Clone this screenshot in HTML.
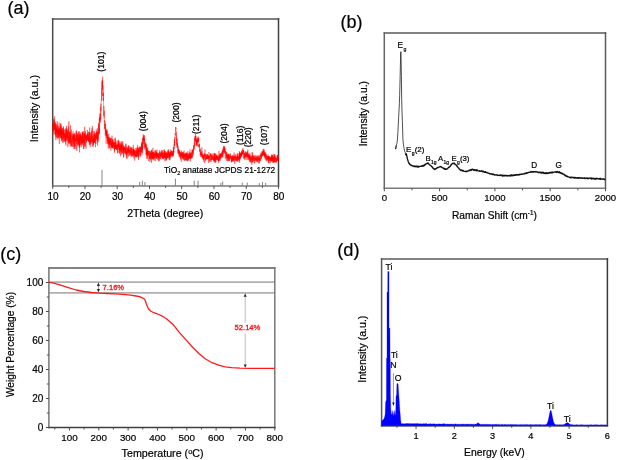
<!DOCTYPE html>
<html><head><meta charset="utf-8"><style>
html,body{margin:0;padding:0;background:#fff;}
svg{display:block;font-family:'Liberation Sans',Arial,sans-serif;}
</style></head><body>
<svg width="617" height="460" viewBox="0 0 617 460">
<rect width="617" height="460" fill="#fff"/>
<text x="7.5" y="14" font-size="18" text-anchor="start" fill="#000" stroke="#000" stroke-width="0.2" >(a)</text>
<path d="M52.7,18.9H278.5" stroke="#555" stroke-width="1.5" stroke-linecap="square"/>
<path d="M278.5,18.9V185.9" stroke="#404040" stroke-width="1.5" stroke-linecap="square"/>
<path d="M52.7,18.9V185.9" stroke="#4a4a4a" stroke-width="1.5" stroke-linecap="square"/>
<path d="M52.7,185.9H278.5" stroke="#7a7a7a" stroke-width="1.5" stroke-linecap="square"/>
<line x1="52.7" y1="185.9" x2="52.7" y2="188.9" stroke="#4d4d4d" stroke-width="1" />
<line x1="68.83" y1="185.9" x2="68.83" y2="187.9" stroke="#4d4d4d" stroke-width="1" />
<line x1="84.96" y1="185.9" x2="84.96" y2="188.9" stroke="#4d4d4d" stroke-width="1" />
<line x1="101.09" y1="185.9" x2="101.09" y2="187.9" stroke="#4d4d4d" stroke-width="1" />
<line x1="117.21" y1="185.9" x2="117.21" y2="188.9" stroke="#4d4d4d" stroke-width="1" />
<line x1="133.34" y1="185.9" x2="133.34" y2="187.9" stroke="#4d4d4d" stroke-width="1" />
<line x1="149.47" y1="185.9" x2="149.47" y2="188.9" stroke="#4d4d4d" stroke-width="1" />
<line x1="165.6" y1="185.9" x2="165.6" y2="187.9" stroke="#4d4d4d" stroke-width="1" />
<line x1="181.73" y1="185.9" x2="181.73" y2="188.9" stroke="#4d4d4d" stroke-width="1" />
<line x1="197.86" y1="185.9" x2="197.86" y2="187.9" stroke="#4d4d4d" stroke-width="1" />
<line x1="213.99" y1="185.9" x2="213.99" y2="188.9" stroke="#4d4d4d" stroke-width="1" />
<line x1="230.11" y1="185.9" x2="230.11" y2="187.9" stroke="#4d4d4d" stroke-width="1" />
<line x1="246.24" y1="185.9" x2="246.24" y2="188.9" stroke="#4d4d4d" stroke-width="1" />
<line x1="262.37" y1="185.9" x2="262.37" y2="187.9" stroke="#4d4d4d" stroke-width="1" />
<line x1="278.5" y1="185.9" x2="278.5" y2="188.9" stroke="#4d4d4d" stroke-width="1" />
<text x="53" y="199.5" font-size="10" text-anchor="middle" fill="#000" stroke="#000" stroke-width="0.2" >10</text>
<text x="85.26" y="199.5" font-size="10" text-anchor="middle" fill="#000" stroke="#000" stroke-width="0.2" >20</text>
<text x="117.51" y="199.5" font-size="10" text-anchor="middle" fill="#000" stroke="#000" stroke-width="0.2" >30</text>
<text x="149.77" y="199.5" font-size="10" text-anchor="middle" fill="#000" stroke="#000" stroke-width="0.2" >40</text>
<text x="182.03" y="199.5" font-size="10" text-anchor="middle" fill="#000" stroke="#000" stroke-width="0.2" >50</text>
<text x="214.29" y="199.5" font-size="10" text-anchor="middle" fill="#000" stroke="#000" stroke-width="0.2" >60</text>
<text x="246.54" y="199.5" font-size="10" text-anchor="middle" fill="#000" stroke="#000" stroke-width="0.2" >70</text>
<text x="278.8" y="199.5" font-size="10" text-anchor="middle" fill="#000" stroke="#000" stroke-width="0.2" >80</text>
<text x="165.2" y="216.7" font-size="10.6" text-anchor="middle" fill="#000" stroke="#000" stroke-width="0.2" >2Theta (degree)</text>
<text transform="translate(38.3,108.6) rotate(-90)" font-size="10.6" text-anchor="middle" fill="#000" stroke="#000" stroke-width="0.2">Intensity (a.u.)</text>
<line x1="101.99" y1="185.9" x2="101.99" y2="169.9" stroke="#777" stroke-width="0.9" />
<line x1="139.62" y1="185.9" x2="139.62" y2="182.05" stroke="#777" stroke-width="0.9" />
<line x1="142.37" y1="185.9" x2="142.37" y2="180.7" stroke="#777" stroke-width="0.9" />
<line x1="144.87" y1="185.9" x2="144.87" y2="182.05" stroke="#777" stroke-width="0.9" />
<line x1="175.44" y1="185.9" x2="175.44" y2="178.68" stroke="#777" stroke-width="0.9" />
<line x1="194.28" y1="185.9" x2="194.28" y2="180.7" stroke="#777" stroke-width="0.9" />
<line x1="198.05" y1="185.9" x2="198.05" y2="180.7" stroke="#777" stroke-width="0.9" />
<line x1="220.82" y1="185.9" x2="220.82" y2="182.86" stroke="#777" stroke-width="0.9" />
<line x1="222.66" y1="185.9" x2="222.66" y2="181.51" stroke="#777" stroke-width="0.9" />
<line x1="242.24" y1="185.9" x2="242.24" y2="182.59" stroke="#777" stroke-width="0.9" />
<line x1="247.24" y1="185.9" x2="247.24" y2="182.59" stroke="#777" stroke-width="0.9" />
<line x1="259.24" y1="185.9" x2="259.24" y2="183.13" stroke="#777" stroke-width="0.9" />
<line x1="262.46" y1="185.9" x2="262.46" y2="182.05" stroke="#777" stroke-width="0.9" />
<line x1="265.65" y1="185.9" x2="265.65" y2="182.86" stroke="#777" stroke-width="0.9" />
<text x="164" y="172.9" font-size="8.4" text-anchor="start" fill="#000" stroke="#000" stroke-width="0.2" >TiO<tspan font-size="5.5" dy="2">2</tspan><tspan dy="-2"> anatase JCPDS 21-1272</tspan></text>
<text transform="translate(104.1,61.6) rotate(-90)" font-size="8.6" text-anchor="middle" fill="#000" stroke="#000" stroke-width="0.2">(101)</text>
<text transform="translate(145.8,121.2) rotate(-90)" font-size="8.6" text-anchor="middle" fill="#000" stroke="#000" stroke-width="0.2">(004)</text>
<text transform="translate(178.8,112.5) rotate(-90)" font-size="8.6" text-anchor="middle" fill="#000" stroke="#000" stroke-width="0.2">(200)</text>
<text transform="translate(199,124.3) rotate(-90)" font-size="8.6" text-anchor="middle" fill="#000" stroke="#000" stroke-width="0.2">(211)</text>
<text transform="translate(226.7,133.5) rotate(-90)" font-size="8.6" text-anchor="middle" fill="#000" stroke="#000" stroke-width="0.2">(204)</text>
<text transform="translate(242.7,135.3) rotate(-90)" font-size="8.6" text-anchor="middle" fill="#000" stroke="#000" stroke-width="0.2">(116)</text>
<text transform="translate(250.8,137.3) rotate(-90)" font-size="8.6" text-anchor="middle" fill="#000" stroke="#000" stroke-width="0.2">(220)</text>
<text transform="translate(267.4,135.3) rotate(-90)" font-size="8.6" text-anchor="middle" fill="#000" stroke="#000" stroke-width="0.2">(107)</text>
<polyline points="52.7,127.59 52.76,129.13 52.83,126.32 52.89,123.29 52.96,125.52 53.02,122.89 53.09,128.2 53.15,134.65 53.22,125.54 53.28,124.95 53.35,130.55 53.41,129.94 53.47,128.73 53.54,123.6 53.6,128.16 53.67,131.84 53.73,121.69 53.8,126.17 53.86,119.01 53.93,122.12 53.99,119.41 54.06,127.49 54.12,122.38 54.18,130.13 54.25,129.61 54.31,127.94 54.38,116.34 54.44,126.28 54.51,128.79 54.57,129.65 54.64,121.48 54.7,126.79 54.77,124.34 54.83,125.24 54.89,134.64 54.96,125.35 55.02,129.28 55.09,133.91 55.15,126.62 55.22,129.03 55.28,130.2 55.35,130.02 55.41,123.62 55.47,130.18 55.54,136.64 55.6,122.17 55.67,134.25 55.73,130.6 55.8,126.85 55.86,140.11 55.93,133.97 55.99,124.21 56.06,130.63 56.12,133.2 56.18,129.42 56.25,133.83 56.31,130.14 56.38,133.86 56.44,137.76 56.51,127.24 56.57,131.69 56.64,128.41 56.7,131.41 56.77,124.89 56.83,127.98 56.89,129.95 56.96,135.48 57.02,136.76 57.09,124.47 57.15,127.16 57.22,134.42 57.28,121.28 57.35,128.97 57.41,130.86 57.48,137.68 57.54,134.89 57.6,129.86 57.67,129.7 57.73,130.35 57.8,139.27 57.86,129.56 57.93,130.23 57.99,133.57 58.06,131.25 58.12,130.92 58.19,126.39 58.25,131.95 58.31,129.84 58.38,137.94 58.44,135.43 58.51,132.09 58.57,135.61 58.64,130.62 58.7,137.63 58.77,132.39 58.83,135.39 58.9,126.07 58.96,134.31 59.02,124.19 59.09,122.5 59.15,131.21 59.22,128.28 59.28,133.65 59.35,144.11 59.41,128.78 59.48,129.87 59.54,134.06 59.61,135.55 59.67,132.26 59.73,132.16 59.8,136.75 59.86,135.89 59.93,128.18 59.99,133 60.06,133.61 60.12,128.19 60.19,134.79 60.25,129.24 60.31,138.42 60.38,134.55 60.44,134.07 60.51,130.7 60.57,133.09 60.64,123.73 60.7,128.09 60.77,135.6 60.83,123.17 60.9,138.08 60.96,125.15 61.02,137.69 61.09,129.72 61.15,137.87 61.22,134.66 61.28,126.35 61.35,140.32 61.41,141.31 61.48,133.81 61.54,132.8 61.61,133.4 61.67,129.35 61.73,139.76 61.8,131.58 61.86,134.07 61.93,130.39 61.99,131.26 62.06,128.03 62.12,140.74 62.19,133.72 62.25,139.35 62.32,134.62 62.38,131.11 62.44,132.98 62.51,131.84 62.57,134.72 62.64,132.83 62.7,133.24 62.77,127.88 62.83,130.77 62.9,143.11 62.96,131.51 63.03,129.63 63.09,136.62 63.15,142 63.22,127.73 63.28,133.99 63.35,131.9 63.41,126.29 63.48,138.8 63.54,135.04 63.61,135.55 63.67,131.46 63.74,137.53 63.8,132.59 63.86,134.6 63.93,129.81 63.99,129.3 64.06,142.09 64.12,132.91 64.19,136.93 64.25,135.34 64.32,133.33 64.38,133.03 64.44,138.75 64.51,134.13 64.57,134.91 64.64,135.81 64.7,141.61 64.77,139.17 64.83,137.71 64.9,133.01 64.96,128.95 65.03,140.64 65.09,140.75 65.15,135.24 65.22,138.68 65.28,139.9 65.35,140.18 65.41,140.66 65.48,133.8 65.54,143.68 65.61,129.9 65.67,140.47 65.74,138.66 65.8,140.58 65.86,145.64 65.93,143.69 65.99,130.57 66.06,127.88 66.12,140.44 66.19,131.3 66.25,136.34 66.32,140.63 66.38,128.24 66.45,125.94 66.51,137.81 66.57,136.76 66.64,135.34 66.7,136.79 66.77,132.32 66.83,129.08 66.9,135.84 66.96,131.85 67.03,128.52 67.09,139.29 67.16,136.48 67.22,138.85 67.28,131.89 67.35,133.58 67.41,131.9 67.48,132.49 67.54,137.93 67.61,133.06 67.67,138.78 67.74,138.73 67.8,147.18 67.87,130.12 67.93,141.55 67.99,136.69 68.06,137.1 68.12,129.95 68.19,134.92 68.25,140.96 68.32,136.86 68.38,137.71 68.45,135.88 68.51,143.13 68.58,137.28 68.64,126.41 68.7,133.98 68.77,127.62 68.83,121.24 68.9,134.87 68.96,144.21 69.03,137.81 69.09,131.74 69.16,132.92 69.22,143.31 69.28,138.47 69.35,137.95 69.41,137.47 69.48,137.96 69.54,141.82 69.61,140.58 69.67,138.92 69.74,132.66 69.8,140.45 69.87,134.51 69.93,143.42 69.99,131.63 70.06,137.32 70.12,138 70.19,131.44 70.25,146.69 70.32,145.41 70.38,135.83 70.45,142.02 70.51,140.09 70.58,125.19 70.64,139.5 70.7,137.97 70.77,138.72 70.83,132.97 70.9,137.02 70.96,137.5 71.03,144.33 71.09,140.1 71.16,138.44 71.22,146.1 71.29,135.76 71.35,136.61 71.41,129.54 71.48,146.4 71.54,143.42 71.61,143.21 71.67,142 71.74,139.26 71.8,139.81 71.87,137.51 71.93,137.78 72,139.09 72.06,146.33 72.12,141.6 72.19,138.57 72.25,136.01 72.32,135.75 72.38,146.85 72.45,141.43 72.51,139.28 72.58,137.24 72.64,133.49 72.71,138.66 72.77,143.32 72.83,137.08 72.9,137.91 72.96,137.96 73.03,139.61 73.09,131.21 73.16,137.93 73.22,134.89 73.29,143.49 73.35,135.34 73.42,142 73.48,146.69 73.54,137.64 73.61,136.24 73.67,140.16 73.74,139.22 73.8,134.36 73.87,141.53 73.93,149.2 74,138.02 74.06,138.31 74.12,134.19 74.19,140.91 74.25,133.23 74.32,133.93 74.38,145.67 74.45,134.95 74.51,144.72 74.58,146.91 74.64,140.72 74.71,142.18 74.77,149.05 74.83,138.53 74.9,136.6 74.96,132.89 75.03,139.74 75.09,146.8 75.16,144.27 75.22,134.97 75.29,135.41 75.35,137.15 75.42,141.06 75.48,138.64 75.54,140.71 75.61,141.12 75.67,138.23 75.74,139.51 75.8,140.73 75.87,139.32 75.93,142.21 76,148.89 76.06,142.67 76.13,140.07 76.19,131.59 76.25,141.72 76.32,130.35 76.38,132.99 76.45,144.03 76.51,143.32 76.58,139.17 76.64,131.59 76.71,138.12 76.77,136.64 76.84,143.06 76.9,150.95 76.96,141.04 77.03,136.22 77.09,134.33 77.16,139.76 77.22,139.19 77.29,134.47 77.35,140.64 77.42,134.51 77.48,145.5 77.55,145.28 77.61,145.4 77.67,137.85 77.74,142.66 77.8,139.54 77.87,138.31 77.93,138.57 78,133.94 78.06,133.24 78.13,144.07 78.19,139.3 78.25,141.27 78.32,145.06 78.38,131.84 78.45,136.43 78.51,141.06 78.58,142.11 78.64,138.39 78.71,145.18 78.77,141.22 78.84,134.36 78.9,135.72 78.96,144.09 79.03,142.44 79.09,131.05 79.16,146.69 79.22,143.08 79.29,146.66 79.35,138.35 79.42,138.77 79.48,134.77 79.55,152.39 79.61,139.35 79.67,147.82 79.74,137.07 79.8,140.97 79.87,132.15 79.93,138.34 80,144.9 80.06,134.17 80.13,145.32 80.19,141.79 80.26,135.17 80.32,137.76 80.38,137.97 80.45,139.93 80.51,137.6 80.58,136.2 80.64,138.7 80.71,135.24 80.77,133.99 80.84,139.92 80.9,144.37 80.97,132.84 81.03,140.16 81.09,137.04 81.16,135.48 81.22,144.22 81.29,137.67 81.35,147.29 81.42,136.41 81.48,141.98 81.55,139.05 81.61,136.53 81.68,142.93 81.74,139.39 81.8,143 81.87,139.89 81.93,134.95 82,139.63 82.06,140.36 82.13,144.67 82.19,135.8 82.26,139.92 82.32,131.92 82.39,143.2 82.45,134.96 82.51,131.52 82.58,139.81 82.64,145.34 82.71,132.85 82.77,134.92 82.84,136.56 82.9,134.72 82.97,141.88 83.03,136.25 83.09,136.65 83.16,142.83 83.22,136.49 83.29,142.11 83.35,135.46 83.42,134.32 83.48,131.37 83.55,148.85 83.61,138.54 83.68,141.2 83.74,139.9 83.8,140.8 83.87,140.27 83.93,149.04 84,135.13 84.06,132.68 84.13,135.25 84.19,133.73 84.26,143.54 84.32,143.88 84.39,135.48 84.45,133.46 84.51,138.33 84.58,146.55 84.64,126.73 84.71,142.47 84.77,134.93 84.84,144.88 84.9,134.91 84.97,138.64 85.03,132.89 85.1,135.37 85.16,146.47 85.22,143.8 85.29,138.05 85.35,135.85 85.42,131.04 85.48,138.07 85.55,139.76 85.61,139.5 85.68,139.45 85.74,134.62 85.81,139.56 85.87,139.68 85.93,145.89 86,148.58 86.06,139.19 86.13,136.24 86.19,139.51 86.26,136.97 86.32,136.33 86.39,139.51 86.45,134.9 86.52,142.6 86.58,139.27 86.64,140.92 86.71,138.89 86.77,136.34 86.84,135.3 86.9,138.6 86.97,137.14 87.03,140.78 87.1,139.66 87.16,133.33 87.23,139.97 87.29,133.4 87.35,136.77 87.42,138.26 87.48,129.97 87.55,140.03 87.61,140.3 87.68,138.85 87.74,137.61 87.81,137.83 87.87,135.02 87.93,138.29 88,136.97 88.06,139.95 88.13,133.93 88.19,140.59 88.26,140.15 88.32,138.82 88.39,137.43 88.45,142.01 88.52,131.73 88.58,141.56 88.64,140.54 88.71,140.71 88.77,141.16 88.84,136.36 88.9,138.17 88.97,142.3 89.03,141.33 89.1,140.28 89.16,132.32 89.23,141.79 89.29,144.69 89.35,143.93 89.42,140.34 89.48,132.07 89.55,143.58 89.61,138.54 89.68,127.54 89.74,140.93 89.81,132.31 89.87,133.2 89.94,136.23 90,144.99 90.06,137.42 90.13,140.35 90.19,147.12 90.26,146.4 90.32,138.59 90.39,137.93 90.45,133.24 90.52,135.82 90.58,140.95 90.65,140.79 90.71,139.47 90.77,143.51 90.84,135.39 90.9,138.65 90.97,142.24 91.03,141.55 91.1,143.76 91.16,140.66 91.23,137.41 91.29,140.46 91.36,134.2 91.42,131.27 91.48,141.4 91.55,138.48 91.61,140.12 91.68,130.94 91.74,137 91.81,135.91 91.87,134.68 91.94,128.32 92,137.06 92.06,142.66 92.13,140.3 92.19,135.82 92.26,138.48 92.32,141.98 92.39,125.96 92.45,137.95 92.52,140.97 92.58,141.59 92.65,146.21 92.71,143.62 92.77,139.87 92.84,139.81 92.9,142 92.97,135.96 93.03,138.21 93.1,142.49 93.16,147.24 93.23,137.62 93.29,138.11 93.36,139.21 93.42,144.38 93.48,138.14 93.55,144.91 93.61,133.86 93.68,137.38 93.74,137.3 93.81,141.73 93.87,142.88 93.94,131.31 94,133.97 94.07,139.61 94.13,135.08 94.19,131.16 94.26,142.7 94.32,140.21 94.39,140.18 94.45,135.78 94.52,142.53 94.58,136.78 94.65,142.77 94.71,133.69 94.78,133.92 94.84,138.65 94.9,134.53 94.97,140.7 95.03,138.79 95.1,133.43 95.16,137.87 95.23,135.93 95.29,141.56 95.36,134.58 95.42,135.4 95.49,142.74 95.55,147.28 95.61,146.15 95.68,137.46 95.74,138.1 95.81,143.89 95.87,136.46 95.94,132.61 96,137.41 96.07,138.83 96.13,133.09 96.2,129.41 96.26,130.28 96.32,139.5 96.39,133.14 96.45,135.79 96.52,137.27 96.58,138.98 96.65,134.7 96.71,138.28 96.78,132.09 96.84,134.32 96.9,131.32 96.97,140.67 97.03,135.49 97.1,132.27 97.16,133.86 97.23,134.31 97.29,138.22 97.36,128.09 97.42,130.4 97.49,133.14 97.55,145.66 97.61,138.66 97.68,133.88 97.74,137.3 97.81,142.96 97.87,132.87 97.94,132.13 98,138.77 98.07,135.48 98.13,136.05 98.2,130.77 98.26,141.03 98.32,139.88 98.39,134.74 98.45,135.01 98.52,123.13 98.58,134.3 98.65,130.47 98.71,132.88 98.78,133.64 98.84,128.97 98.91,122.89 98.97,131.34 99.03,126.27 99.1,127.65 99.16,126.11 99.23,126.83 99.29,118.06 99.36,132.58 99.42,128.04 99.49,131.19 99.55,134.35 99.62,125.55 99.68,117.3 99.74,120.55 99.81,118.63 99.87,120.96 99.94,122.74 100,113.29 100.07,122.41 100.13,113.87 100.2,120.65 100.26,118.11 100.33,116.37 100.39,116.45 100.45,113.54 100.52,112.22 100.58,106.7 100.65,112.48 100.71,119.12 100.78,118.47 100.84,114.48 100.91,110.62 100.97,103.55 101.04,110.94 101.1,103.31 101.16,101.8 101.23,99.4 101.29,99.47 101.36,95.77 101.42,95.7 101.49,90.06 101.55,91.49 101.62,100.93 101.68,89.88 101.74,87.85 101.81,89.75 101.87,89.33 101.94,80.86 102,83.68 102.07,87.55 102.13,84.34 102.2,83.36 102.26,88.99 102.33,79.92 102.39,83.2 102.45,81.14 102.52,89.84 102.58,76.64 102.65,82.72 102.71,84.32 102.78,90.29 102.84,91.33 102.91,95.86 102.97,85.35 103.04,96.18 103.1,93.52 103.16,93.58 103.23,99.97 103.29,95.69 103.36,92.62 103.42,100.97 103.49,97.98 103.55,102.84 103.62,108.34 103.68,109.49 103.75,115.9 103.81,110.1 103.87,106.06 103.94,110.35 104,110.87 104.07,110.8 104.13,118.4 104.2,115.15 104.26,110.87 104.33,122.34 104.39,120.05 104.46,122.74 104.52,122.56 104.58,125.39 104.65,123.8 104.71,129.2 104.78,126.69 104.84,127.21 104.91,127.89 104.97,121.19 105.04,126.79 105.1,126.96 105.17,129.29 105.23,123.69 105.29,135.78 105.36,130.29 105.42,125.63 105.49,124.12 105.55,130.04 105.62,131.16 105.68,129.1 105.75,132.57 105.81,130.08 105.87,135 105.94,130.4 106,133.33 106.07,137.52 106.13,143.9 106.2,130.45 106.26,132.79 106.33,131.6 106.39,138.04 106.46,130.9 106.52,133.65 106.58,135.6 106.65,132.2 106.71,132.48 106.78,134.51 106.84,128.54 106.91,131.21 106.97,135.29 107.04,137.58 107.1,136.49 107.17,130.66 107.23,135.75 107.29,140.66 107.36,139.89 107.42,137.64 107.49,134.75 107.55,140.58 107.62,136.17 107.68,134.09 107.75,135.59 107.81,144.11 107.88,139.65 107.94,143.26 108,137.27 108.07,142.65 108.13,137.03 108.2,138.78 108.26,148.68 108.33,142.4 108.39,137.81 108.46,139.44 108.52,141.05 108.59,144.4 108.65,138.22 108.71,133.71 108.78,139.17 108.84,140.33 108.91,140.76 108.97,145.26 109.04,141.67 109.1,143.56 109.17,136.64 109.23,143.9 109.3,148.44 109.36,143.69 109.42,141.87 109.49,141.57 109.55,147.56 109.62,137.78 109.68,140.8 109.75,142.93 109.81,144.02 109.88,139.81 109.94,142.56 110.01,140.51 110.07,142.01 110.13,141.17 110.2,137.61 110.26,141.7 110.33,144.99 110.39,138.43 110.46,141.1 110.52,144.41 110.59,138.26 110.65,142.8 110.71,138.42 110.78,146.33 110.84,150.59 110.91,149.61 110.97,141.66 111.04,145.14 111.1,142.99 111.17,142.97 111.23,148.18 111.3,138.02 111.36,146.53 111.42,142.65 111.49,147.89 111.55,143.6 111.62,140.59 111.68,144.02 111.75,145.7 111.81,143.26 111.88,144.92 111.94,141.39 112.01,135.73 112.07,146.52 112.13,145.85 112.2,143.95 112.26,143.72 112.33,147.18 112.39,141.96 112.46,141.13 112.52,143 112.59,147.9 112.65,138.87 112.72,148 112.78,141.6 112.84,140.02 112.91,148.36 112.97,143.64 113.04,139.46 113.1,142.81 113.17,147.38 113.23,148.33 113.3,142.7 113.36,145.66 113.43,146.78 113.49,142.07 113.55,145.61 113.62,144.3 113.68,142.58 113.75,142.78 113.81,144.77 113.88,144.68 113.94,142.65 114.01,143.18 114.07,148.57 114.14,145.48 114.2,147.85 114.26,148.99 114.33,146.9 114.39,152.77 114.46,142.08 114.52,147.78 114.59,143.91 114.65,151.48 114.72,150.97 114.78,138.38 114.85,141.82 114.91,147.5 114.97,147.97 115.04,147.82 115.1,145.08 115.17,146.93 115.23,147.65 115.3,145.17 115.36,149.01 115.43,137.74 115.49,147.72 115.55,142.03 115.62,148.91 115.68,144.87 115.75,142.65 115.81,147.01 115.88,142.65 115.94,142.68 116.01,140.48 116.07,145.78 116.14,147.61 116.2,149.44 116.26,145.5 116.33,149.59 116.39,146.12 116.46,145.77 116.52,148.08 116.59,149.76 116.65,145.04 116.72,145.4 116.78,145.72 116.85,146.58 116.91,143.28 116.97,149.86 117.04,145.05 117.1,148.01 117.17,143.68 117.23,147.72 117.3,147.87 117.36,145.16 117.43,153.44 117.49,147.9 117.56,152.68 117.62,149.95 117.68,144.52 117.75,145.5 117.81,148.28 117.88,147.06 117.94,147.05 118.01,145.96 118.07,140.88 118.14,146.23 118.2,139.58 118.27,148.3 118.33,144.65 118.39,144.72 118.46,146.42 118.52,148.1 118.59,142.43 118.65,141.41 118.72,143.73 118.78,140.51 118.85,144.13 118.91,152.69 118.98,143.9 119.04,149.62 119.1,142.92 119.17,148.51 119.23,146.49 119.3,147.38 119.36,149.5 119.43,153.47 119.49,148.32 119.56,148.12 119.62,144.52 119.68,149.71 119.75,146.99 119.81,150.59 119.88,147.73 119.94,153.65 120.01,141.39 120.07,146.99 120.14,150.9 120.2,146.87 120.27,145.45 120.33,147.22 120.39,143.59 120.46,148.54 120.52,156.2 120.59,151.97 120.65,144.61 120.72,145.41 120.78,146.98 120.85,151.63 120.91,145.68 120.98,146.14 121.04,151.32 121.1,151.29 121.17,147.27 121.23,144.88 121.3,143.5 121.36,146.31 121.43,141.35 121.49,151.09 121.56,146.63 121.62,150.27 121.69,154.81 121.75,152.58 121.81,145.06 121.88,151.65 121.94,152.61 122.01,146.47 122.07,145.83 122.14,148.59 122.2,143.8 122.27,153.76 122.33,141.27 122.4,145.5 122.46,148.23 122.52,148.4 122.59,149.7 122.65,150.06 122.72,148.53 122.78,152.91 122.85,142.4 122.91,149.31 122.98,147.04 123.04,149.79 123.11,150.11 123.17,146.51 123.23,147.41 123.3,152.03 123.36,150.63 123.43,147.37 123.49,156.1 123.56,156.98 123.62,144.97 123.69,150.63 123.75,157.69 123.82,152.22 123.88,150.46 123.94,149.12 124.01,148.09 124.07,149.17 124.14,148.12 124.2,152.27 124.27,148.67 124.33,148.56 124.4,146.18 124.46,149.86 124.52,147.22 124.59,149.51 124.65,153.4 124.72,151.29 124.78,151.76 124.85,151.32 124.91,150.41 124.98,149.85 125.04,149.31 125.11,152.7 125.17,146.93 125.23,154.58 125.3,150.51 125.36,148.08 125.43,148.92 125.49,148.36 125.56,151.02 125.62,148.3 125.69,154.15 125.75,148.16 125.82,143.53 125.88,148.38 125.94,144.42 126.01,150.59 126.07,154.05 126.14,152.79 126.2,146.64 126.27,148.46 126.33,156.39 126.4,151.88 126.46,150.93 126.53,154.22 126.59,158.58 126.65,155.02 126.72,151.46 126.78,152.16 126.85,153 126.91,149.22 126.98,147.87 127.04,151.34 127.11,148.28 127.17,151.04 127.24,151.56 127.3,158.5 127.36,148.7 127.43,150.97 127.49,150.87 127.56,152.75 127.62,154.65 127.69,149.95 127.75,148.97 127.82,146.49 127.88,148.71 127.95,153.21 128.01,151.74 128.07,148.5 128.14,150.48 128.2,151.72 128.27,153.17 128.33,149.83 128.4,150.89 128.46,146.12 128.53,148.16 128.59,156.6 128.66,145.03 128.72,150.67 128.78,152.37 128.85,150.58 128.91,149.27 128.98,151.55 129.04,151.72 129.11,151.5 129.17,146.08 129.24,151.32 129.3,149.19 129.36,150.13 129.43,152.48 129.49,153.73 129.56,154.51 129.62,150.32 129.69,154.61 129.75,155.36 129.82,155.26 129.88,156.03 129.95,151.42 130.01,151.35 130.07,154.35 130.14,147.79 130.2,152.52 130.27,150.31 130.33,150.8 130.4,146.7 130.46,149.26 130.53,151.87 130.59,154.6 130.66,154.91 130.72,151.72 130.78,151.4 130.85,149.49 130.91,153.18 130.98,151.25 131.04,153.81 131.11,157.23 131.17,151.92 131.24,147.55 131.3,149.46 131.37,147.69 131.43,148.47 131.49,155.94 131.56,152.73 131.62,147.54 131.69,154.02 131.75,155.83 131.82,151.02 131.88,150.08 131.95,151.1 132.01,152.95 132.08,154.02 132.14,155.64 132.2,155.73 132.27,155.66 132.33,156.19 132.4,154.11 132.46,147.61 132.53,151.77 132.59,153.1 132.66,151.04 132.72,154.88 132.79,151.12 132.85,149.45 132.91,156.48 132.98,154.18 133.04,152.86 133.11,154.96 133.17,155.37 133.24,153.24 133.3,144.97 133.37,150.25 133.43,150.9 133.49,149.35 133.56,152.85 133.62,155.79 133.69,150.84 133.75,148.93 133.82,158.26 133.88,150.96 133.95,148.66 134.01,153 134.08,153.56 134.14,150.23 134.2,154.64 134.27,150.88 134.33,149.61 134.4,152.85 134.46,154.6 134.53,150.47 134.59,153.31 134.66,152.07 134.72,160.64 134.79,150.27 134.85,156.42 134.91,152.21 134.98,151.99 135.04,154.48 135.11,154.99 135.17,156.09 135.24,153.34 135.3,150.63 135.37,150.81 135.43,153.88 135.5,154.1 135.56,156.49 135.62,153.63 135.69,155.51 135.75,156.84 135.82,152.89 135.88,148.07 135.95,148.97 136.01,148.22 136.08,157.07 136.14,149.95 136.21,156.02 136.27,154.13 136.33,157.43 136.4,155.35 136.46,152.13 136.53,151.84 136.59,152.67 136.66,152.94 136.72,150.88 136.79,152.33 136.85,157.1 136.92,147.47 136.98,153.17 137.04,149.78 137.11,152.96 137.17,154.85 137.24,152.24 137.3,154.65 137.37,147.78 137.43,155.6 137.5,150.64 137.56,154.19 137.63,152.9 137.69,144.88 137.75,150.17 137.82,152.99 137.88,156.84 137.95,153.17 138.01,153.07 138.08,148.23 138.14,156.44 138.21,157.52 138.27,152.36 138.33,151.63 138.4,147.58 138.46,154.79 138.53,160.02 138.59,154.28 138.66,155.83 138.72,153.73 138.79,149.31 138.85,155.98 138.92,148.55 138.98,151.48 139.04,152.87 139.11,154.58 139.17,153.21 139.24,153.09 139.3,149.76 139.37,148.21 139.43,152.07 139.5,149.81 139.56,148.06 139.63,148.14 139.69,150.33 139.75,146.38 139.82,147.79 139.88,146.92 139.95,152.08 140.01,152.67 140.08,157.2 140.14,147.1 140.21,149.39 140.27,153.88 140.34,150.58 140.4,150.2 140.46,155.95 140.53,150.01 140.59,147.6 140.66,147.05 140.72,151.68 140.79,151.5 140.85,146.61 140.92,147.61 140.98,151.83 141.05,151.84 141.11,148.23 141.17,151.71 141.24,151.43 141.3,144.57 141.37,148.61 141.43,150.51 141.5,147.53 141.56,142.89 141.63,147.98 141.69,150.72 141.76,152.87 141.82,141.92 141.88,155.34 141.95,144.46 142.01,150.12 142.08,150.63 142.14,149.62 142.21,146.95 142.27,142.91 142.34,147.65 142.4,143.5 142.47,138.01 142.53,152.8 142.59,146.4 142.66,149.14 142.72,140.99 142.79,147.3 142.85,147.22 142.92,146.68 142.98,141.79 143.05,138.02 143.11,140.49 143.17,134.36 143.24,135.37 143.3,140.07 143.37,136.67 143.43,138.69 143.5,138.58 143.56,144.11 143.63,142.15 143.69,138.25 143.76,141.73 143.82,136.12 143.88,137.43 143.95,141.06 144.01,135.18 144.08,138.11 144.14,135.45 144.21,139.81 144.27,144.42 144.34,138.11 144.4,141.26 144.47,138.54 144.53,138.27 144.59,138.49 144.66,146.49 144.72,149.49 144.79,144.68 144.85,141.76 144.92,146.18 144.98,143.7 145.05,147.3 145.11,146.28 145.18,146.63 145.24,147.93 145.3,144.97 145.37,145.81 145.43,142.46 145.5,146.35 145.56,143.92 145.63,147.77 145.69,145.78 145.76,149 145.82,150.23 145.89,145.25 145.95,147.17 146.01,147.02 146.08,151.94 146.14,154.81 146.21,152.61 146.27,149.45 146.34,154.67 146.4,146.54 146.47,155.08 146.53,149.24 146.6,143.48 146.66,158.7 146.72,155.85 146.79,148.73 146.85,152.18 146.92,151.23 146.98,152.22 147.05,147.93 147.11,150.25 147.18,153.53 147.24,152.95 147.3,155.74 147.37,152.73 147.43,159.09 147.5,150.69 147.56,153.46 147.63,147.52 147.69,149.43 147.76,156.63 147.82,150.42 147.89,154.56 147.95,152.98 148.01,150.33 148.08,152.31 148.14,151.91 148.21,152.04 148.27,155.52 148.34,155.29 148.4,151.95 148.47,151.09 148.53,154.42 148.6,153.41 148.66,156.56 148.72,161.08 148.79,156.13 148.85,153.76 148.92,153.43 148.98,151.58 149.05,151.49 149.11,151.26 149.18,152.97 149.24,152.91 149.31,156.16 149.37,153.06 149.43,153.65 149.5,150.88 149.56,158.76 149.63,155.67 149.69,159.21 149.76,156.53 149.82,158.45 149.89,153.73 149.95,156.4 150.02,161.86 150.08,151.14 150.14,157.71 150.21,159.16 150.27,155.69 150.34,156.64 150.4,158.07 150.47,152.76 150.53,155.75 150.6,152.21 150.66,152.76 150.73,152.94 150.79,154.27 150.85,155.1 150.92,155.96 150.98,150.77 151.05,160.24 151.11,157.96 151.18,156.78 151.24,153.78 151.31,154.54 151.37,156.32 151.44,155.96 151.5,150.16 151.56,156.9 151.63,162.95 151.69,149.73 151.76,157.64 151.82,155.91 151.89,154.59 151.95,158.72 152.02,151.63 152.08,155.38 152.14,159 152.21,154.4 152.27,153.8 152.34,155.29 152.4,153.75 152.47,159.28 152.53,152.48 152.6,157.43 152.66,151.55 152.73,156.88 152.79,154.74 152.85,147.89 152.92,155.04 152.98,152.11 153.05,153.84 153.11,159.34 153.18,152 153.24,152.16 153.31,159.08 153.37,155.43 153.44,159.38 153.5,156.02 153.56,152.7 153.63,154.96 153.69,158.54 153.76,157.75 153.82,155.17 153.89,155.3 153.95,154.87 154.02,153.59 154.08,160.51 154.15,155.22 154.21,152.09 154.27,153.9 154.34,157.22 154.4,156.99 154.47,154.85 154.53,153.4 154.6,155.31 154.66,150.65 154.73,151.68 154.79,157.45 154.86,153.95 154.92,156.3 154.98,158.62 155.05,157.07 155.11,155.35 155.18,161.13 155.24,157.13 155.31,154.34 155.37,157.32 155.44,156.44 155.5,152.98 155.57,155.53 155.63,154.89 155.69,149.97 155.76,154.88 155.82,154.58 155.89,154.16 155.95,150.87 156.02,154.4 156.08,155.26 156.15,155.66 156.21,152.29 156.28,157.11 156.34,152.08 156.4,154.79 156.47,158.95 156.53,153.52 156.6,154.02 156.66,158.33 156.73,154.38 156.79,154.62 156.86,156.03 156.92,158.28 156.98,149.46 157.05,153.2 157.11,152.72 157.18,152.51 157.24,153.14 157.31,153.19 157.37,156.28 157.44,153.07 157.5,155.8 157.57,156.56 157.63,153.51 157.69,155.84 157.76,159.9 157.82,156.36 157.89,153.78 157.95,155.33 158.02,153.04 158.08,156.24 158.15,157.83 158.21,153.32 158.28,154.96 158.34,158.51 158.4,154.19 158.47,156.03 158.53,152.79 158.6,153.35 158.66,154.17 158.73,161.24 158.79,154.48 158.86,154.17 158.92,154.08 158.99,155.13 159.05,157.28 159.11,156.06 159.18,160.94 159.24,156.13 159.31,159.35 159.37,156.3 159.44,157.16 159.5,151.82 159.57,155.26 159.63,155.41 159.7,154.96 159.76,149.99 159.82,157.89 159.89,154.6 159.95,154.47 160.02,154.95 160.08,155.02 160.15,156.67 160.21,152.31 160.28,153.19 160.34,156.36 160.41,155.98 160.47,154.63 160.53,154.12 160.6,153.44 160.66,155.45 160.73,158.67 160.79,152.86 160.86,159.55 160.92,157.79 160.99,154.43 161.05,157.63 161.11,151.81 161.18,151.12 161.24,152.26 161.31,154.54 161.37,154.76 161.44,154.26 161.5,155.85 161.57,150.08 161.63,156.87 161.7,151.93 161.76,153.88 161.82,154.52 161.89,152.6 161.95,152.05 162.02,152.99 162.08,155.55 162.15,157.1 162.21,157.04 162.28,153.02 162.34,153.54 162.41,153.21 162.47,156.73 162.53,150.33 162.6,158.76 162.66,154.32 162.73,153.55 162.79,156.44 162.86,158.22 162.92,156.44 162.99,158.27 163.05,155.91 163.12,158.72 163.18,158.75 163.24,155.3 163.31,159.25 163.37,155.97 163.44,155.77 163.5,153.18 163.57,154.8 163.63,157.54 163.7,152.17 163.76,157.2 163.83,156.43 163.89,156.24 163.95,149.88 164.02,155.26 164.08,157.18 164.15,153.57 164.21,155.75 164.28,149.43 164.34,157.23 164.41,153.82 164.47,157.73 164.54,150.8 164.6,157.27 164.66,154.89 164.73,157.56 164.79,153.13 164.86,153.91 164.92,161.2 164.99,153.36 165.05,153.68 165.12,154.77 165.18,152.86 165.25,158.5 165.31,159.85 165.37,153.66 165.44,151.06 165.5,158.43 165.57,158.26 165.63,157.53 165.7,158.38 165.76,153.22 165.83,155 165.89,151.9 165.95,151.81 166.02,157.9 166.08,153.7 166.15,161.19 166.21,155.58 166.28,153.76 166.34,157.41 166.41,159.95 166.47,156.6 166.54,152.28 166.6,156.3 166.66,158.84 166.73,154.1 166.79,153.38 166.86,157.91 166.92,155.68 166.99,152.53 167.05,154.35 167.12,153.4 167.18,156.05 167.25,155.57 167.31,158.19 167.37,157.07 167.44,151.32 167.5,156.29 167.57,157.51 167.63,156.39 167.7,157.83 167.76,153.84 167.83,152.82 167.89,157.55 167.96,152.51 168.02,149.74 168.08,157.76 168.15,153.34 168.21,154.38 168.28,151.62 168.34,151.79 168.41,152.21 168.47,154.2 168.54,156.02 168.6,149.3 168.67,156.96 168.73,152.08 168.79,152.36 168.86,156.73 168.92,154.82 168.99,151.14 169.05,159.61 169.12,152.81 169.18,155.57 169.25,155.43 169.31,158.45 169.38,153.75 169.44,157.4 169.5,153 169.57,157.65 169.63,152.91 169.7,153.89 169.76,159.52 169.83,155.55 169.89,155.01 169.96,160.32 170.02,155.59 170.09,152.63 170.15,156.48 170.21,151.68 170.28,157.42 170.34,157.59 170.41,153.13 170.47,152.97 170.54,154.95 170.6,154.52 170.67,152.01 170.73,155.84 170.79,149.3 170.86,153.28 170.92,153.32 170.99,153.61 171.05,155.02 171.12,151.16 171.18,155.64 171.25,153.69 171.31,152.48 171.38,150.65 171.44,151.06 171.5,154.85 171.57,151.51 171.63,154.01 171.7,156.43 171.76,156.3 171.83,157.54 171.89,152.87 171.96,150.85 172.02,156 172.09,154.16 172.15,156.1 172.21,153.26 172.28,156.11 172.34,155.15 172.41,154.73 172.47,154.1 172.54,153.73 172.6,153.21 172.67,153.08 172.73,154.84 172.8,151 172.86,156.41 172.92,151.72 172.99,154.26 173.05,151.44 173.12,150.88 173.18,156.32 173.25,150.34 173.31,147.75 173.38,148.92 173.44,149.66 173.51,155.51 173.57,150.44 173.63,151.95 173.7,146.89 173.76,149.9 173.83,150.35 173.89,152.77 173.96,146.24 174.02,149.02 174.09,147.84 174.15,144.12 174.22,146.09 174.28,144.96 174.34,139.33 174.41,145.91 174.47,145.13 174.54,142.05 174.6,139.12 174.67,145.28 174.73,141.51 174.8,142.52 174.86,142.61 174.92,136.98 174.99,139.32 175.05,135.79 175.12,135.28 175.18,134.27 175.25,133.54 175.31,135.36 175.38,132.09 175.44,130.63 175.51,129.64 175.57,130.56 175.63,127.09 175.7,127.73 175.76,128.67 175.83,127.41 175.89,128.66 175.96,127.76 176.02,134.59 176.09,133.52 176.15,132.07 176.22,131.62 176.28,137.94 176.34,134.3 176.41,134.24 176.47,136.15 176.54,137.12 176.6,140.77 176.67,138.23 176.73,144.29 176.8,137.92 176.86,142.6 176.93,139.29 176.99,146.91 177.05,142.42 177.12,143.78 177.18,146.81 177.25,148.23 177.31,143.06 177.38,145.47 177.44,143.43 177.51,147.63 177.57,147.5 177.64,147.32 177.7,146.91 177.76,148.01 177.83,147.48 177.89,150.9 177.96,153.6 178.02,145.55 178.09,150.22 178.15,149.75 178.22,152.19 178.28,148.93 178.35,151.1 178.41,149.15 178.47,153.54 178.54,152.28 178.6,151.82 178.67,153.27 178.73,151.94 178.8,148.94 178.86,154.26 178.93,153.65 178.99,152.72 179.06,155.58 179.12,156.26 179.18,150.81 179.25,151.66 179.31,157.37 179.38,157.15 179.44,152.06 179.51,151.08 179.57,152.47 179.64,152.89 179.7,150.36 179.76,154.31 179.83,151.23 179.89,151.47 179.96,156.64 180.02,152.87 180.09,154.39 180.15,156.13 180.22,156.63 180.28,153.93 180.35,154.89 180.41,152.86 180.47,159.07 180.54,156.49 180.6,152.34 180.67,155.03 180.73,156.77 180.8,156.25 180.86,159.52 180.93,158.46 180.99,153.93 181.06,155.04 181.12,152.23 181.18,155.92 181.25,155.72 181.31,161.84 181.38,155.65 181.44,150.46 181.51,153.88 181.57,155.77 181.64,152.54 181.7,153.49 181.77,154.72 181.83,156.43 181.89,155.24 181.96,153.54 182.02,157.56 182.09,154.42 182.15,154.54 182.22,152.46 182.28,153.89 182.35,157.33 182.41,151.96 182.48,155.65 182.54,157.54 182.6,154.96 182.67,156.44 182.73,153.24 182.8,159.01 182.86,158.53 182.93,156.49 182.99,151.79 183.06,153.48 183.12,158.29 183.19,160.04 183.25,156.7 183.31,158.96 183.38,154.59 183.44,155.59 183.51,156.05 183.57,157.06 183.64,152.46 183.7,158.3 183.77,159.21 183.83,153.39 183.9,152.91 183.96,156.95 184.02,154.58 184.09,150.54 184.15,158.05 184.22,156.52 184.28,155.04 184.35,161.15 184.41,156.51 184.48,154.41 184.54,156.43 184.6,153.75 184.67,154.42 184.73,157.12 184.8,154.92 184.86,155.17 184.93,160.16 184.99,158.26 185.06,158.13 185.12,157.49 185.19,157.39 185.25,159.68 185.31,156.22 185.38,160.62 185.44,154.04 185.51,155.68 185.57,153.05 185.64,155.48 185.7,157.5 185.77,159.69 185.83,154.74 185.9,156.31 185.96,155.46 186.02,154.58 186.09,153.52 186.15,156.45 186.22,152.26 186.28,156.57 186.35,156.36 186.41,154.78 186.48,153.95 186.54,153.08 186.61,160.68 186.67,153.18 186.73,159.95 186.8,157.72 186.86,155.47 186.93,153.62 186.99,158.74 187.06,160.34 187.12,154.14 187.19,155.61 187.25,158.76 187.32,157.09 187.38,160.96 187.44,154.98 187.51,157.56 187.57,153.39 187.64,161.16 187.7,154.59 187.77,151.16 187.83,155.99 187.9,155.95 187.96,160.71 188.03,155.48 188.09,156.23 188.15,157.63 188.22,159.92 188.28,156.09 188.35,158.64 188.41,157.43 188.48,155.53 188.54,156.39 188.61,156.27 188.67,154.07 188.73,158.99 188.8,152.97 188.86,158.87 188.93,158.36 188.99,155.92 189.06,154.36 189.12,155.59 189.19,157.19 189.25,157.8 189.32,156.74 189.38,158.35 189.44,154.76 189.51,156.57 189.57,152.4 189.64,157.75 189.7,156.33 189.77,155 189.83,158.61 189.9,157.51 189.96,149.42 190.03,155.96 190.09,152.5 190.15,158.27 190.22,161.51 190.28,154.57 190.35,155.91 190.41,155.13 190.48,156.48 190.54,157.12 190.61,158.56 190.67,153.31 190.74,159.14 190.8,153.36 190.86,156.09 190.93,158.07 190.99,157 191.06,153.18 191.12,153.67 191.19,154.17 191.25,155.06 191.32,157.75 191.38,152.12 191.45,156.08 191.51,156.35 191.57,156.16 191.64,155.89 191.7,158.22 191.77,155.79 191.83,156.56 191.9,155.81 191.96,158.53 192.03,150.02 192.09,157.19 192.16,153.57 192.22,153.43 192.28,151.75 192.35,149.6 192.41,152.87 192.48,152.05 192.54,154.61 192.61,150 192.67,156.46 192.74,153.67 192.8,152.33 192.87,151.11 192.93,150.76 192.99,149.79 193.06,150.92 193.12,151.96 193.19,151.33 193.25,148.29 193.32,150.64 193.38,148.96 193.45,151.07 193.51,154.63 193.57,151.51 193.64,149.06 193.7,145.74 193.77,145.85 193.83,144.84 193.9,149.89 193.96,146.08 194.03,147.5 194.09,145.47 194.16,146.58 194.22,149.02 194.28,143.76 194.35,143.98 194.41,142.35 194.48,145.55 194.54,140.67 194.61,139.82 194.67,138.65 194.74,138.02 194.8,141.68 194.87,145.86 194.93,137.33 194.99,141.26 195.06,139.28 195.12,135.9 195.19,137.49 195.25,137.39 195.32,136.25 195.38,142.1 195.45,133.52 195.51,138.77 195.58,138.84 195.64,137.02 195.7,138.94 195.77,140.89 195.83,139.61 195.9,140.56 195.96,141.55 196.03,135.81 196.09,144.04 196.16,146.17 196.22,143.59 196.29,143.96 196.35,138.82 196.41,141.94 196.48,140.59 196.54,141.26 196.61,144.87 196.67,141 196.74,142.56 196.8,138.6 196.87,142.48 196.93,142.97 197,141.1 197.06,140.92 197.12,146.56 197.19,139.45 197.25,139.57 197.32,139.84 197.38,144.02 197.45,145.72 197.51,141.47 197.58,138.81 197.64,139.14 197.71,142.15 197.77,137.47 197.83,142.46 197.9,142.17 197.96,139.01 198.03,140.17 198.09,140.36 198.16,142.16 198.22,136.48 198.29,141.6 198.35,138.39 198.41,137.83 198.48,140.13 198.54,139.85 198.61,138.61 198.67,137.77 198.74,139.76 198.8,145.62 198.87,147.32 198.93,145 199,146.76 199.06,143.56 199.12,145.1 199.19,146.44 199.25,143.96 199.32,144.67 199.38,147.56 199.45,147.11 199.51,145.92 199.58,149.54 199.64,148.51 199.71,151.73 199.77,149.83 199.83,149.53 199.9,150.8 199.96,150.45 200.03,149.65 200.09,150.51 200.16,153.3 200.22,153.32 200.29,154.97 200.35,148.63 200.42,151.7 200.48,151.86 200.54,153.33 200.61,152.14 200.67,152.18 200.74,155.19 200.8,154.01 200.87,151.2 200.93,156.84 201,156.22 201.06,152.9 201.13,156.1 201.19,152.77 201.25,156.97 201.32,154.12 201.38,152.94 201.45,153.98 201.51,153.2 201.58,155.4 201.64,155.44 201.71,155.21 201.77,153.99 201.84,147.24 201.9,155.56 201.96,151.26 202.03,156.02 202.09,158.03 202.16,156.21 202.22,154.81 202.29,155.33 202.35,155.48 202.42,154.62 202.48,154.59 202.54,153.9 202.61,158.58 202.67,155.98 202.74,158.16 202.8,155.55 202.87,156.3 202.93,155.81 203,157.23 203.06,158.07 203.13,156.82 203.19,154.85 203.25,154.65 203.32,160.03 203.38,155.81 203.45,155.81 203.51,159.7 203.58,158.9 203.64,157.71 203.71,155.69 203.77,161.76 203.84,157.48 203.9,157.84 203.96,156.29 204.03,153.59 204.09,153.78 204.16,157.63 204.22,157.62 204.29,156.25 204.35,154.23 204.42,153.66 204.48,156.12 204.55,153.66 204.61,158.85 204.67,159.42 204.74,163.12 204.8,158.86 204.87,155.65 204.93,155.05 205,149.41 205.06,155.69 205.13,156.63 205.19,159.15 205.26,158.39 205.32,158.35 205.38,157.54 205.45,158.54 205.51,160.28 205.58,154.78 205.64,156.13 205.71,154.1 205.77,160.71 205.84,160.01 205.9,158.83 205.97,154.57 206.03,157.59 206.09,156.71 206.16,157.41 206.22,156.83 206.29,158.39 206.35,156.4 206.42,159.15 206.48,157.82 206.55,156.65 206.61,157.06 206.68,156.35 206.74,159.11 206.8,156.74 206.87,157.99 206.93,156.5 207,154.11 207.06,159.36 207.13,155.07 207.19,158.88 207.26,158.32 207.32,153.78 207.38,155.35 207.45,156.3 207.51,155.64 207.58,154.85 207.64,159.07 207.71,156.94 207.77,158.31 207.84,156.53 207.9,158.15 207.97,155.85 208.03,157.44 208.09,158.78 208.16,157.61 208.22,156.52 208.29,155.15 208.35,157.9 208.42,158.29 208.48,156.98 208.55,155.87 208.61,158.75 208.68,163 208.74,156.91 208.8,158.31 208.87,158.41 208.93,151.97 209,157.87 209.06,156.06 209.13,160.64 209.19,157.06 209.26,155.92 209.32,157.15 209.39,157.99 209.45,156.41 209.51,157.53 209.58,154.68 209.64,157.16 209.71,159.35 209.77,161.97 209.84,159.21 209.9,158.27 209.97,160.27 210.03,159.91 210.1,161.32 210.16,160.06 210.22,157.44 210.29,158.26 210.35,158.1 210.42,158.37 210.48,158.15 210.55,156.01 210.61,153.12 210.68,156.26 210.74,153.3 210.81,157.88 210.87,157.75 210.93,154.08 211,159.25 211.06,159.64 211.13,157.96 211.19,161.4 211.26,161.85 211.32,155.13 211.39,160.03 211.45,158.73 211.52,158.69 211.58,159.82 211.64,156.21 211.71,156.49 211.77,155.98 211.84,156.14 211.9,157.58 211.97,154.63 212.03,155.52 212.1,159.06 212.16,157.65 212.22,158.65 212.29,153.68 212.35,156.1 212.42,156.6 212.48,157.89 212.55,156.54 212.61,159.86 212.68,157.7 212.74,157.87 212.81,157.86 212.87,159.38 212.93,156.81 213,160.29 213.06,158.84 213.13,158.18 213.19,157.94 213.26,158.98 213.32,160.06 213.39,159.91 213.45,158.67 213.52,159.77 213.58,158.11 213.64,160.59 213.71,157.8 213.77,153.33 213.84,160.78 213.9,158.1 213.97,155.31 214.03,157.43 214.1,155.94 214.16,162.45 214.23,158.95 214.29,154.45 214.35,159.06 214.42,157 214.48,162.05 214.55,155.57 214.61,152.97 214.68,158.01 214.74,157.11 214.81,156.96 214.87,153.2 214.94,158.8 215,161.52 215.06,153.71 215.13,160.42 215.19,156.63 215.26,162.99 215.32,158.81 215.39,157.45 215.45,160.27 215.52,159 215.58,156.56 215.65,159.4 215.71,156.74 215.77,153.95 215.84,162.27 215.9,157.08 215.97,156.51 216.03,158.57 216.1,154.43 216.16,154.88 216.23,156.73 216.29,156.69 216.35,157.97 216.42,160.26 216.48,156.77 216.55,158.88 216.61,159.11 216.68,155.43 216.74,158.28 216.81,155.73 216.87,160.09 216.94,158.76 217,157.8 217.06,154.84 217.13,158 217.19,156.07 217.26,159.28 217.32,157.47 217.39,155.96 217.45,159.73 217.52,159.28 217.58,156.41 217.65,160.22 217.71,157.03 217.77,157 217.84,157.93 217.9,156.02 217.97,156.68 218.03,157.28 218.1,160.95 218.16,160.88 218.23,157.04 218.29,161.09 218.36,157.48 218.42,158.39 218.48,159.47 218.55,158.17 218.61,162.78 218.68,158.03 218.74,154.88 218.81,160.31 218.87,156.56 218.94,156.78 219,150.91 219.07,159.58 219.13,159.16 219.19,159.1 219.26,159.47 219.32,160.99 219.39,157.19 219.45,159.31 219.52,155.63 219.58,156.45 219.65,159.49 219.71,158.01 219.78,154.23 219.84,157.89 219.9,156.67 219.97,155.26 220.03,157.95 220.1,156.09 220.16,153.51 220.23,154.47 220.29,160.69 220.36,153.51 220.42,157.24 220.49,158.04 220.55,158.05 220.61,153.94 220.68,155.85 220.74,156.8 220.81,158.18 220.87,154.97 220.94,153.78 221,158.42 221.07,158.57 221.13,156.89 221.19,154.69 221.26,156.81 221.32,156.08 221.39,157.56 221.45,152.93 221.52,155.8 221.58,155.09 221.65,152.91 221.71,155.67 221.78,155.15 221.84,154.05 221.9,155.66 221.97,151.58 222.03,154.39 222.1,155.28 222.16,154.79 222.23,156.33 222.29,151.19 222.36,150.33 222.42,153.91 222.49,154.16 222.55,157.55 222.61,154.05 222.68,150.57 222.74,153.96 222.81,150.11 222.87,148.45 222.94,157.06 223,151.82 223.07,152.37 223.13,151.75 223.2,154.17 223.26,150.57 223.32,152.31 223.39,147.16 223.45,146.11 223.52,151.98 223.58,151.85 223.65,149.56 223.71,148.77 223.78,148.49 223.84,146.53 223.91,151.29 223.97,149.34 224.03,149.01 224.1,148.77 224.16,150.31 224.23,149.25 224.29,149.92 224.36,145.94 224.42,149.79 224.49,153.66 224.55,148.04 224.62,149.15 224.68,151.65 224.74,152.07 224.81,151.64 224.87,147.08 224.94,151.97 225,148.6 225.07,149.67 225.13,152.93 225.2,151.37 225.26,154.03 225.33,159.36 225.39,154.47 225.45,154.59 225.52,151.31 225.58,152.08 225.65,151.38 225.71,152.73 225.78,151.71 225.84,152.83 225.91,153.98 225.97,152.43 226.03,151.68 226.1,151.95 226.16,156.03 226.23,155.31 226.29,157.53 226.36,157.69 226.42,154.81 226.49,157.11 226.55,152.64 226.62,160.8 226.68,158.54 226.74,155.58 226.81,153.61 226.87,157.04 226.94,152.24 227,154.68 227.07,158.06 227.13,156.67 227.2,155.51 227.26,158.69 227.33,154.44 227.39,157.37 227.45,155.73 227.52,155.02 227.58,157.91 227.65,154.81 227.71,161.12 227.78,155.78 227.84,161.39 227.91,154.76 227.97,158.48 228.04,154.61 228.1,154.34 228.16,157.62 228.23,158.77 228.29,154.58 228.36,159.93 228.42,155.67 228.49,157.71 228.55,158.28 228.62,158.77 228.68,153.62 228.75,161.03 228.81,158.77 228.87,156.66 228.94,155.39 229,153.96 229.07,154.7 229.13,158.84 229.2,156.95 229.26,155.26 229.33,156.58 229.39,161.12 229.46,157.04 229.52,156.51 229.58,160.71 229.65,158.8 229.71,157.91 229.78,156.52 229.84,154.49 229.91,155.33 229.97,156.84 230.04,157.41 230.1,158.67 230.16,159.1 230.23,158.4 230.29,158.41 230.36,155.77 230.42,153.3 230.49,156.84 230.55,155.92 230.62,156.58 230.68,157.4 230.75,155.32 230.81,155.62 230.87,157.81 230.94,158.28 231,156.62 231.07,159.13 231.13,157.58 231.2,155.86 231.26,158.16 231.33,162.15 231.39,156.63 231.46,160.61 231.52,161.08 231.58,161.34 231.65,156.34 231.71,162.47 231.78,158.38 231.84,157.58 231.91,157.64 231.97,159.44 232.04,158.26 232.1,157.77 232.17,160.93 232.23,156.6 232.29,155.91 232.36,159.88 232.42,159.69 232.49,160.54 232.55,155.87 232.62,160.52 232.68,159.23 232.75,162 232.81,155.5 232.88,158.67 232.94,157.6 233,154.78 233.07,156.67 233.13,160.64 233.2,157.2 233.26,156.66 233.33,160.09 233.39,160.36 233.46,160.35 233.52,156.52 233.59,158.1 233.65,160.45 233.71,156.82 233.78,156.62 233.84,160.02 233.91,161.61 233.97,155.75 234.04,152.64 234.1,155.11 234.17,156.06 234.23,157.95 234.3,159.57 234.36,157.93 234.42,156.73 234.49,158.57 234.55,156.17 234.62,158.14 234.68,156.86 234.75,164.02 234.81,160 234.88,156.44 234.94,156.09 235,157.3 235.07,154.69 235.13,156.66 235.2,156.64 235.26,160.13 235.33,157.31 235.39,156.52 235.46,155.33 235.52,155.68 235.59,158.07 235.65,157.75 235.71,160.65 235.78,156.85 235.84,160.48 235.91,158.75 235.97,158.18 236.04,153.86 236.1,155.4 236.17,159.77 236.23,161.18 236.3,158.61 236.36,159.8 236.42,157.27 236.49,157.34 236.55,156.71 236.62,160.23 236.68,158.86 236.75,157.61 236.81,157.4 236.88,159.29 236.94,158.78 237.01,156.29 237.07,161.76 237.13,158.61 237.2,158.07 237.26,161.22 237.33,160.23 237.39,157.83 237.46,159.16 237.52,155.69 237.59,156.6 237.65,153.1 237.72,160.58 237.78,153.85 237.84,159.39 237.91,156.12 237.97,155.78 238.04,157.45 238.1,158.43 238.17,159.15 238.23,161.63 238.3,158.57 238.36,159.67 238.43,156.47 238.49,159.26 238.55,158.04 238.62,156.68 238.68,157.45 238.75,157.49 238.81,158.01 238.88,158.43 238.94,156.44 239.01,155.91 239.07,159.08 239.14,153.79 239.2,156.07 239.26,160.69 239.33,151.49 239.39,155.78 239.46,158.7 239.52,153.63 239.59,162.71 239.65,151.51 239.72,160.1 239.78,160.3 239.84,158.86 239.91,156.35 239.97,157.53 240.04,154.76 240.1,158.35 240.17,154.12 240.23,155.85 240.3,158.49 240.36,153.86 240.43,155.37 240.49,156.4 240.55,153.05 240.62,158.32 240.68,156.42 240.75,152.31 240.81,155.32 240.88,153.61 240.94,153.71 241.01,155.13 241.07,153.27 241.14,156.69 241.2,152.92 241.26,156.35 241.33,153.95 241.39,155.68 241.46,152.48 241.52,152.34 241.59,150.74 241.65,154.24 241.72,154.8 241.78,157.13 241.85,155.16 241.91,152.73 241.97,151.57 242.04,152.69 242.1,151.66 242.17,154.74 242.23,153.53 242.3,149.64 242.36,149.93 242.43,154.33 242.49,152.08 242.56,150.97 242.62,154.09 242.68,150.81 242.75,151.17 242.81,150.92 242.88,147.87 242.94,154.1 243.01,149.84 243.07,151.41 243.14,151.23 243.2,154.59 243.27,153.08 243.33,153.46 243.39,150.02 243.46,153.62 243.52,150.83 243.59,154.83 243.65,155.12 243.72,154.46 243.78,159.03 243.85,155.93 243.91,156.21 243.97,155.37 244.04,154.77 244.1,157.37 244.17,157.77 244.23,152.72 244.3,157.86 244.36,156.78 244.43,157.82 244.49,156.83 244.56,153.23 244.62,153.44 244.68,159.92 244.75,156.6 244.81,153.07 244.88,156.89 244.94,155.4 245.01,152.25 245.07,151.31 245.14,152.8 245.2,156.83 245.27,156.15 245.33,155.72 245.39,156.87 245.46,157.54 245.52,151.73 245.59,155.57 245.65,154.42 245.72,153.53 245.78,154.96 245.85,155.83 245.91,155.49 245.98,152.89 246.04,154.92 246.1,160.21 246.17,153.58 246.23,152.16 246.3,156.29 246.36,156.9 246.43,156.54 246.49,153.06 246.56,157.51 246.62,153.61 246.69,152.78 246.75,153.82 246.81,154.81 246.88,156.49 246.94,156.22 247.01,154.77 247.07,156.76 247.14,154.89 247.2,156.59 247.27,151.65 247.33,151.27 247.4,156.31 247.46,151.69 247.52,154.05 247.59,154.53 247.65,153.76 247.72,153.9 247.78,157.93 247.85,149.63 247.91,157.03 247.98,160.15 248.04,155.4 248.11,155.42 248.17,157.13 248.23,159.6 248.3,153.26 248.36,156.1 248.43,155.62 248.49,157.32 248.56,156.57 248.62,157.74 248.69,155.52 248.75,156.62 248.81,155.17 248.88,155.26 248.94,156.46 249.01,156.54 249.07,154.41 249.14,160.34 249.2,156.76 249.27,154.15 249.33,159.52 249.4,155.62 249.46,158.36 249.52,157.29 249.59,157.91 249.65,157.78 249.72,156.23 249.78,157.59 249.85,161.88 249.91,152.8 249.98,157.75 250.04,158.58 250.11,155.43 250.17,154.78 250.23,162.35 250.3,156.97 250.36,162.23 250.43,158.96 250.49,158 250.56,158.88 250.62,159.24 250.69,160.42 250.75,158.85 250.82,158.25 250.88,158.34 250.94,160.86 251.01,159.74 251.07,155.87 251.14,156.67 251.2,158.74 251.27,156.72 251.33,157.26 251.4,156.04 251.46,157.53 251.53,159.01 251.59,160.24 251.65,158.14 251.72,162.56 251.78,157.98 251.85,164.97 251.91,160.3 251.98,159.23 252.04,157.11 252.11,152.16 252.17,157.86 252.24,158.58 252.3,162.31 252.36,155.27 252.43,162.29 252.49,157.69 252.56,159.78 252.62,152.82 252.69,158.54 252.75,157.52 252.82,159.71 252.88,158.46 252.95,155.83 253.01,160.29 253.07,159.76 253.14,159.55 253.2,160.43 253.27,160.63 253.33,158.24 253.4,155.4 253.46,155.34 253.53,161.18 253.59,159.82 253.65,158.52 253.72,157.38 253.78,158.38 253.85,158.36 253.91,157.6 253.98,156.83 254.04,162.93 254.11,158.81 254.17,157.03 254.24,155.55 254.3,156.78 254.36,159.86 254.43,159.94 254.49,157.86 254.56,158.44 254.62,157.68 254.69,155.97 254.75,161.1 254.82,159.12 254.88,163.6 254.95,156.72 255.01,158.03 255.07,160.21 255.14,157.81 255.2,155.37 255.27,156.31 255.33,158.54 255.4,159.06 255.46,158.13 255.53,160.47 255.59,160.44 255.66,159.02 255.72,158.38 255.78,157.79 255.85,159.5 255.91,160.28 255.98,158.45 256.04,159.28 256.11,157.63 256.17,155.31 256.24,156.19 256.3,159.94 256.37,159.26 256.43,161.69 256.49,158.43 256.56,160.14 256.62,161.12 256.69,160.41 256.75,157 256.82,157.9 256.88,158.56 256.95,156.19 257.01,159.29 257.08,160.45 257.14,157.25 257.2,162.46 257.27,157.64 257.33,157.82 257.4,157.74 257.46,156.74 257.53,159.13 257.59,158.27 257.66,161.76 257.72,159.51 257.78,159.35 257.85,157.73 257.91,155.19 257.98,158 258.04,156.37 258.11,160.19 258.17,158.09 258.24,161.69 258.3,159.7 258.37,159.9 258.43,158.61 258.49,158.55 258.56,159.48 258.62,160.04 258.69,156.56 258.75,159.1 258.82,163.61 258.88,157.83 258.95,157.46 259.01,156.52 259.08,154.89 259.14,160.48 259.2,158.06 259.27,158.55 259.33,161.81 259.4,163.2 259.46,155.96 259.53,160.06 259.59,159.12 259.66,158.62 259.72,158.77 259.79,157.67 259.85,161.07 259.91,158.97 259.98,158.36 260.04,160.24 260.11,159.46 260.17,158.5 260.24,158.17 260.3,161.17 260.37,158.48 260.43,157.16 260.5,155.48 260.56,156.52 260.62,154.97 260.69,157.37 260.75,157.62 260.82,152.66 260.88,156.99 260.95,158.26 261.01,157.16 261.08,154.71 261.14,159.34 261.21,155.09 261.27,153.87 261.33,154.09 261.4,156.25 261.46,158.26 261.53,158.54 261.59,156.39 261.66,153.29 261.72,154.31 261.79,153.66 261.85,155.04 261.92,151.51 261.98,155.36 262.04,156.33 262.11,154.48 262.17,155.6 262.24,152.45 262.3,151.18 262.37,152.72 262.43,156.34 262.5,155.87 262.56,152.53 262.62,155.85 262.69,152.42 262.75,156.13 262.82,153.77 262.88,151.62 262.95,154.1 263.01,150.63 263.08,150.17 263.14,148.97 263.21,152.5 263.27,151.78 263.33,151.69 263.4,150.98 263.46,154.91 263.53,151 263.59,150.43 263.66,154.69 263.72,155.17 263.79,153.01 263.85,148.75 263.92,151.33 263.98,154.07 264.04,152.99 264.11,156.43 264.17,150.44 264.24,154.97 264.3,152.4 264.37,156.73 264.43,153.96 264.5,156.49 264.56,153.12 264.63,151.69 264.69,152.5 264.75,153.74 264.82,153.02 264.88,157.88 264.95,158.33 265.01,156.22 265.08,153.59 265.14,155.66 265.21,154.58 265.27,159.23 265.34,156.93 265.4,157.41 265.46,155.63 265.53,152.32 265.59,155.04 265.66,154.39 265.72,157.62 265.79,157.12 265.85,155.3 265.92,156.25 265.98,160.45 266.05,155.17 266.11,155.33 266.17,156.84 266.24,155.91 266.3,156.53 266.37,158.61 266.43,161.2 266.5,153.82 266.56,157.59 266.63,157.76 266.69,157.54 266.76,157.36 266.82,157.08 266.88,159.96 266.95,156.88 267.01,157.63 267.08,157.93 267.14,158.19 267.21,157.63 267.27,160.13 267.34,158.03 267.4,158.44 267.46,157.99 267.53,156 267.59,156.39 267.66,155.95 267.72,158.6 267.79,156.71 267.85,155.99 267.92,158.76 267.98,159.38 268.05,154.57 268.11,161.88 268.17,158.39 268.24,158.12 268.3,160.61 268.37,158.52 268.43,157.11 268.5,163.04 268.56,156.15 268.63,158.22 268.69,160.23 268.76,156.2 268.82,158.25 268.88,159.3 268.95,163.57 269.01,156.62 269.08,158.42 269.14,159.92 269.21,158.71 269.27,156.01 269.34,159.42 269.4,158.8 269.47,159.52 269.53,160.98 269.59,160.74 269.66,159.47 269.72,159.27 269.79,156.3 269.85,158.35 269.92,159.1 269.98,157.8 270.05,158.86 270.11,156.92 270.18,161.91 270.24,163.22 270.3,157.86 270.37,159.53 270.43,158.2 270.5,161.37 270.56,159.63 270.63,158.88 270.69,158.25 270.76,158.99 270.82,156.62 270.89,160.17 270.95,157.24 271.01,159.88 271.08,159.03 271.14,161.07 271.21,158.73 271.27,160.93 271.34,156.83 271.4,160.07 271.47,158.32 271.53,159.2 271.59,158.95 271.66,160.78 271.72,154.55 271.79,159.49 271.85,155.67 271.92,161.37 271.98,154.67 272.05,156.71 272.11,155.31 272.18,162.29 272.24,156.13 272.3,159.09 272.37,157.72 272.43,155.06 272.5,158.15 272.56,160.26 272.63,158.48 272.69,160.85 272.76,158.11 272.82,158.89 272.89,158.07 272.95,159.61 273.01,162.89 273.08,159.65 273.14,159.3 273.21,157.59 273.27,157.31 273.34,161.99 273.4,156.56 273.47,156.99 273.53,158.71 273.6,158.02 273.66,163.04 273.72,153.94 273.79,159.69 273.85,160.43 273.92,156.57 273.98,157.58 274.05,159.85 274.11,162.37 274.18,157.01 274.24,155.62 274.31,161 274.37,162.16 274.43,158.25 274.5,154.3 274.56,162.02 274.63,158.54 274.69,161.33 274.76,158.88 274.82,158.18 274.89,158.02 274.95,162.08 275.02,162 275.08,154.48 275.14,157.01 275.21,162.72 275.27,158.21 275.34,156.13 275.4,159 275.47,158.77 275.53,158.79 275.6,157.99 275.66,158.35 275.73,158.05 275.79,159.71 275.85,157.3 275.92,158.4 275.98,158.71 276.05,161.76 276.11,159.8 276.18,158.79 276.24,160.15 276.31,159.88 276.37,161.31 276.43,160.09 276.5,162.8 276.56,161.86 276.63,158.95 276.69,158.17 276.76,160.89 276.82,160.13 276.89,158.84 276.95,155.94 277.02,155.2 277.08,159.78 277.14,160.67 277.21,160.74 277.27,156.35 277.34,161.24 277.4,157.94 277.47,159.88 277.53,159.94 277.6,157.38 277.66,157.82 277.73,154.71 277.79,157.14 277.85,155.29 277.92,159.99 277.98,159.2 278.05,161 278.11,159.83 278.18,157.75 278.24,159.81 278.31,158.27 278.37,160.36 278.44,159.75 278.5,157.01" fill="none" stroke="#ff0000" stroke-width="0.4" stroke-linejoin="round" />
<text x="340.4" y="28.1" font-size="18" text-anchor="start" fill="#000" stroke="#000" stroke-width="0.2" >(b)</text>
<path d="M384.3,33H605.5" stroke="#5a5a5a" stroke-width="1.5" stroke-linecap="square"/>
<path d="M605.5,33V188.3" stroke="#5a5a5a" stroke-width="1.5" stroke-linecap="square"/>
<path d="M384.3,33V188.3" stroke="#666" stroke-width="1.5" stroke-linecap="square"/>
<path d="M384.3,188.3H605.5" stroke="#7a7a7a" stroke-width="1.5" stroke-linecap="square"/>
<line x1="384.3" y1="188.3" x2="384.3" y2="191.3" stroke="#4d4d4d" stroke-width="1" />
<line x1="411.95" y1="188.3" x2="411.95" y2="190.3" stroke="#4d4d4d" stroke-width="1" />
<line x1="439.6" y1="188.3" x2="439.6" y2="191.3" stroke="#4d4d4d" stroke-width="1" />
<line x1="467.25" y1="188.3" x2="467.25" y2="190.3" stroke="#4d4d4d" stroke-width="1" />
<line x1="494.9" y1="188.3" x2="494.9" y2="191.3" stroke="#4d4d4d" stroke-width="1" />
<line x1="522.55" y1="188.3" x2="522.55" y2="190.3" stroke="#4d4d4d" stroke-width="1" />
<line x1="550.2" y1="188.3" x2="550.2" y2="191.3" stroke="#4d4d4d" stroke-width="1" />
<line x1="577.85" y1="188.3" x2="577.85" y2="190.3" stroke="#4d4d4d" stroke-width="1" />
<line x1="605.5" y1="188.3" x2="605.5" y2="191.3" stroke="#4d4d4d" stroke-width="1" />
<text x="384.3" y="201.3" font-size="9.6" text-anchor="middle" fill="#000" stroke="#000" stroke-width="0.2" >0</text>
<text x="439.6" y="201.3" font-size="9.6" text-anchor="middle" fill="#000" stroke="#000" stroke-width="0.2" >500</text>
<text x="494.9" y="201.3" font-size="9.6" text-anchor="middle" fill="#000" stroke="#000" stroke-width="0.2" >1000</text>
<text x="550.2" y="201.3" font-size="9.6" text-anchor="middle" fill="#000" stroke="#000" stroke-width="0.2" >1500</text>
<text x="605.5" y="201.3" font-size="9.6" text-anchor="middle" fill="#000" stroke="#000" stroke-width="0.2" >2000</text>
<text x="452" y="218.5" font-size="10.2" text-anchor="start" fill="#000" stroke="#000" stroke-width="0.2" >Raman Shift (cm<tspan font-size="6.3" dy="-4">-1</tspan><tspan dy="4">)</tspan></text>
<text transform="translate(367.1,113.7) rotate(-90)" font-size="10.3" text-anchor="middle" fill="#000" stroke="#000" stroke-width="0.2">Intensity (a.u.)</text>
<polyline points="395.4,149.01 395.65,148.6 395.9,147.71 396.15,146.33 396.4,145.35" fill="none" stroke="#111" stroke-width="1.3" stroke-linejoin="round" />
<polyline points="396.4,145.35 396.65,144.23 396.9,143.39 397.15,141.84 397.4,140.07 397.65,136.04 397.9,132.42 398.15,126.96 398.4,122.08 398.65,117.24 398.9,112.72 399.15,108.17 399.4,102.74 399.65,95.45 399.9,86.16 400.15,76.14 400.4,65.29 400.65,53.05 400.9,51.7 401.15,61.77 401.4,76.27 401.65,97.02 401.9,107.84 402.15,115.13 402.4,121.72 402.65,130.07 402.9,138.29 403.15,141.79 403.4,144.08 403.65,146.15 403.9,147.66 404.15,148.67 404.4,150.02 404.65,151.13 404.9,151.65 405.15,152.18 405.4,152.98 405.65,153.33" fill="none" stroke="#222" stroke-width="0.8" stroke-linejoin="round" />
<polyline points="405.65,153.33 405.9,153.87 406.15,153.67 406.4,154.4 406.65,155.24 406.9,156.12 407.15,157.75 407.4,158.93 407.65,159.47 407.9,160.75 408.15,161.35 408.4,162 408.65,162.59 408.9,163.29 409.15,163.2 409.4,164.04 409.65,164.29 409.9,163.93 410.15,164.67 410.4,164.71 410.65,165.15 410.9,165 411.15,165.26 411.4,165.48 411.65,165.29 411.9,165.77 412.15,165.69 412.4,165.92 412.65,165.73 412.9,166.19 413.15,166.13 413.4,165.99 413.65,166.24 413.9,166.45 414.15,166.63 414.4,165.84 414.65,166.5 414.9,166.44 415.15,166.34 415.4,166.15 415.65,166.75 415.9,166.15 416.15,166.64 416.4,166.85 416.65,166.14 416.9,166.49 417.15,166.25 417.4,166.65 417.65,166.97 417.9,167.11 418.15,166.15 418.4,166.45 418.65,166.76 418.9,166.96 419.15,166.65 419.4,166.33 419.65,166.56 419.9,166.44 420.15,166.35 420.4,166.18 420.65,166.41 420.9,166.34 421.15,166.19 421.4,166.1 421.65,165.77 421.9,165.91 422.15,166.28 422.4,165.86 422.65,165.49 422.9,166.11 423.15,165.85 423.4,166.16 423.65,165.55 423.9,165.29 424.15,164.9 424.4,165.42 424.65,165.56 424.9,164.53 425.15,164.38 425.4,164.5 425.65,163.96 425.9,163.92 426.15,163.74 426.4,163.72 426.65,163.82 426.9,163.44 427.15,163.59 427.4,163.21 427.65,163.38 427.9,162.81 428.15,163.07 428.4,163.77 428.65,163.59 428.9,164.09 429.15,164.31 429.4,164.75 429.65,164.88 429.9,165.19 430.15,165.17 430.4,165.28 430.65,165.5 430.9,165.78 431.15,165.83 431.4,166.21 431.65,166.58 431.9,166.93 432.15,167.05 432.4,166.93 432.65,167.66 432.9,167.99 433.15,168.44 433.4,168.54 433.65,168.43 433.9,168.57 434.15,169.38 434.4,169.15 434.65,169.46 434.9,169.52 435.15,168.74 435.4,168.97 435.65,168.9 435.9,168.81 436.15,168.68 436.4,168.46 436.65,168.31 436.9,167.74 437.15,167.93 437.4,167.64 437.65,167.73 437.9,167.46 438.15,167.64 438.4,167.58 438.65,167.35 438.9,167.24 439.15,167.07 439.4,166.84 439.65,166.82 439.9,166.66 440.15,166.83 440.4,166.71 440.65,166.86 440.9,166.45 441.15,167.13 441.4,166.88 441.65,167.06 441.9,167.39 442.15,167.48 442.4,167.86 442.65,167.78 442.9,167.78 443.15,167.97 443.4,168.65 443.65,168.47 443.9,168.3 444.15,168.72 444.4,168.45 444.65,169.39 444.9,168.66 445.15,169.23 445.4,169.3 445.65,168.83 445.9,169.27 446.15,169.41 446.4,169.21 446.65,169.06 446.9,169.1 447.15,168.75 447.4,168.63 447.65,168.32 447.9,168.31 448.15,167.7 448.4,167.91 448.65,167.37 448.9,167 449.15,167.14 449.4,167.26 449.65,166.88 449.9,166.31 450.15,166.37 450.4,165.83 450.65,165.63 450.9,165.39 451.15,164.49 451.4,164.82 451.65,164.23 451.9,164.04 452.15,163.59 452.4,163.36 452.65,163.32 452.9,163.63 453.15,163.75 453.4,163.29 453.65,163.6 453.9,163.32 454.15,163.02 454.4,163.67 454.65,163.92 454.9,163.89 455.15,164.29 455.4,164.59 455.65,164.47 455.9,164.57 456.15,165.13 456.4,165.38 456.65,165.59 456.9,166.15 457.15,166.57 457.4,166.29 457.65,166.86 457.9,167.23 458.15,167.49 458.4,167.9 458.65,167.87 458.9,168.47 459.15,169.11 459.4,169.11 459.65,169.04 459.9,169.6 460.15,169.99 460.4,169.97 460.65,169.89 460.9,170.53 461.15,169.93 461.4,170.47 461.65,170.44 461.9,170.24 462.15,170.93 462.4,170.8 462.65,170.51 462.9,171.03 463.15,170.84 463.4,170.55 463.65,170.91 463.9,171.21 464.15,171.36 464.4,171.29 464.65,171.3 464.9,171.44 465.15,171.3 465.4,171.67 465.65,171.43 465.9,171.47 466.15,171.53 466.4,171.12 466.65,171.17 466.9,171.69 467.15,171.33 467.4,171.11 467.65,171.19 467.9,170.9 468.15,171 468.4,170.66 468.65,170.8 468.9,170.23 469.15,170.85 469.4,170.29 469.65,169.92 469.9,170.15 470.15,170.02 470.4,170.06 470.65,169.64 470.9,169.95 471.15,170.69 471.4,169.4 471.65,169.75 471.9,169.55 472.15,169.66 472.4,169.15 472.65,169.32 472.9,169.73 473.15,169.62 473.4,170.07 473.65,169.51 473.9,169.77 474.15,170.49 474.4,169.62 474.65,169.63 474.9,169.9 475.15,169.95 475.4,170.23 475.65,170.11 475.9,169.94 476.15,170.24 476.4,170.91 476.65,170.62 476.9,169.66 477.15,170.38 477.4,170.24 477.65,170.66 477.9,170.51 478.15,171.08 478.4,170.88 478.65,170.92 478.9,170.79 479.15,170.78 479.4,170.92 479.65,171.21 479.9,171.06 480.15,170.89 480.4,171.34 480.65,171.12 480.9,171.1 481.15,170.97 481.4,171.08 481.65,171.11 481.9,170.62 482.15,171.63 482.4,171.57 482.65,171.43 482.9,171.79 483.15,171.7 483.4,171.73 483.65,171.08 483.9,171.7 484.15,171.94 484.4,172.27 484.65,172.39 484.9,172.36 485.15,171.78 485.4,171.59 485.65,172.35 485.9,172.29 486.15,172.6 486.4,172.41 486.65,172.57 486.9,172.22 487.15,172.79 487.4,172.65 487.65,172.93 487.9,173.04 488.15,172.98 488.4,173.17 488.65,173.17 488.9,173.45 489.15,173.47 489.4,173.29 489.65,173.36 489.9,174.02 490.15,173.64 490.4,173.99 490.65,173.92 490.9,173.75 491.15,173.78 491.4,174.07 491.65,174.17 491.9,174.32 492.15,173.92 492.4,174.14 492.65,174.33 492.9,174.8 493.15,173.87 493.4,174.61 493.65,174.41 493.9,174.69 494.15,174.5 494.4,174.75 494.65,175.08 494.9,174.82 495.15,174.87 495.4,174.89 495.65,174.65 495.9,175 496.15,174.85 496.4,174.73 496.65,174.96 496.9,174.95 497.15,175.23 497.4,175.06 497.65,174.97 497.9,175.5 498.15,175.41 498.4,175.51 498.65,175.38 498.9,175.23 499.15,175.18 499.4,175.24 499.65,175.57 499.9,175.39 500.15,175.02 500.4,175.41 500.65,175.09 500.9,175.5 501.15,175.18 501.4,175.19 501.65,175.56 501.9,175.53 502.15,175.15 502.4,175.77 502.65,176.14 502.9,175.24 503.15,176.08 503.4,175.47 503.65,175.53 503.9,175.62 504.15,175.31 504.4,176.01 504.65,175.81 504.9,175.5 505.15,175.63 505.4,175.32 505.65,175.61 505.9,175.93 506.15,175.27 506.4,175.59 506.65,175.73 506.9,175.95 507.15,176.02 507.4,175.56 507.65,175.48 507.9,175.77 508.15,175.56 508.4,175.56 508.65,175.89 508.9,176.03 509.15,175.66 509.4,175.53 509.65,175.71 509.9,175.08 510.15,175.53 510.4,175.25 510.65,176.1 510.9,175.66 511.15,175.49 511.4,175.39 511.65,174.79 511.9,175.57 512.15,175.78 512.4,175.17 512.65,175.5 512.9,175.49 513.15,174.89 513.4,175.49 513.65,175.57 513.9,175.26 514.15,175.17 514.4,175.35 514.65,174.74 514.9,175.13 515.15,175.34 515.4,174.74 515.65,175.27 515.9,174.89 516.15,174.45 516.4,174.92 516.65,174.67 516.9,174.97 517.15,174.57 517.4,175.1 517.65,174.62 517.9,174.87 518.15,174.6 518.4,174.64 518.65,174.98 518.9,174.7 519.15,174.51 519.4,174.26 519.65,174.82 519.9,174.67 520.15,174.37 520.4,174.47 520.65,174.1 520.9,174.06 521.15,174.06 521.4,174.31 521.65,174.25 521.9,173.94 522.15,174.26 522.4,174.22 522.65,174.02 522.9,174.18 523.15,173.8 523.4,173.8 523.65,173.89 523.9,173.71 524.15,173.87 524.4,173.31 524.65,173.93 524.9,173.32 525.15,173.43 525.4,173.07 525.65,173.51 525.9,173.61 526.15,173.5 526.4,173.37 526.65,172.71 526.9,172.83 527.15,172.84 527.4,172.64 527.65,173.08 527.9,172.77 528.15,172.65 528.4,172.7 528.65,172.27 528.9,172.2 529.15,172.14 529.4,172.41 529.65,172.31 529.9,172.3 530.15,172.36 530.4,171.69 530.65,171.84 530.9,171.96 531.15,171.54 531.4,171.7 531.65,172.05 531.9,172.04 532.15,172.01 532.4,171.73 532.65,171.65 532.9,171.97 533.15,171.61 533.4,171.79 533.65,172.04 533.9,171.63 534.15,171.59 534.4,171.76 534.65,171.93 534.9,171.93 535.15,171.87 535.4,172 535.65,171.49 535.9,171.71 536.15,172 536.4,171.76 536.65,171.69 536.9,171.76 537.15,171.87 537.4,172.1 537.65,171.92 537.9,172.28 538.15,172.68 538.4,172.26 538.65,172.65 538.9,172.44 539.15,172.12 539.4,172.37 539.65,172.22 539.9,172.68 540.15,172.23 540.4,172.88 540.65,172.72 540.9,172.1 541.15,172.83 541.4,173.06 541.65,172.51 541.9,172.98 542.15,172.32 542.4,172.87 542.65,172.42 542.9,172.99 543.15,172.45 543.4,172.27 543.65,173.05 543.9,173.55 544.15,172.86 544.4,173.24 544.65,173.08 544.9,172.98 545.15,173.23 545.4,173.5 545.65,172.79 545.9,173.24 546.15,173.19 546.4,172.74 546.65,173.49 546.9,173.56 547.15,172.82 547.4,173.48 547.65,173.04 547.9,172.96 548.15,173.35 548.4,173.01 548.65,173 548.9,173.27 549.15,173.19 549.4,173.05 549.65,172.45 549.9,172.37 550.15,173.01 550.4,172.47 550.65,172.7 550.9,172.36 551.15,172.56 551.4,172.25 551.65,172.95 551.9,172.26 552.15,172.45 552.4,172.41 552.65,172.72 552.9,172.03 553.15,172.34 553.4,172.25 553.65,172.4 553.9,172.34 554.15,172.07 554.4,172.21 554.65,172.02 554.9,172.19 555.15,172.01 555.4,171.84 555.65,171.97 555.9,172.04 556.15,172.5 556.4,171.79 556.65,171.98 556.9,172.27 557.15,171.38 557.4,171.48 557.65,171.65 557.9,171.95 558.15,172.64 558.4,172.19 558.65,172.46 558.9,172.18 559.15,171.7 559.4,171.82 559.65,172.75 559.9,172.64 560.15,172.38 560.4,173.09 560.65,172.53 560.9,173.31 561.15,173.5 561.4,173.05 561.65,173.07 561.9,173.67 562.15,173.29 562.4,173.9 562.65,173.51 562.9,174.16 563.15,174.12 563.4,174.15 563.65,174.19 563.9,174.63 564.15,174.26 564.4,174.83 564.65,174.96 564.9,175.38 565.15,175.05 565.4,175.93 565.65,175.56 565.9,175.47 566.15,176.21 566.4,176.39 566.65,176.04 566.9,175.97 567.15,176.3 567.4,176.23 567.65,176.43 567.9,177 568.15,176.8 568.4,176.83 568.65,176.96 568.9,176.94 569.15,177.23 569.4,177.31 569.65,177.05 569.9,177.21 570.15,177.82 570.4,177.36 570.65,177.24 570.9,177.83 571.15,177.35 571.4,177.11 571.65,177.58 571.9,177.21 572.15,177.34 572.4,177.57 572.65,177.48 572.9,177.35 573.15,177.42 573.4,177.43 573.65,177.9 573.9,177.44 574.15,177.5 574.4,178.17 574.65,177.54 574.9,178.07 575.15,178.05 575.4,177.7 575.65,177.4 575.9,177.88 576.15,177.95 576.4,178.04 576.65,177.83 576.9,178.13 577.15,178.19 577.4,177.59 577.65,178.23 577.9,177.93 578.15,177.76 578.4,177.83 578.65,178.39 578.9,178.18 579.15,177.51 579.4,177.99 579.65,177.95 579.9,177.95 580.15,177.88 580.4,177.66 580.65,178.25 580.9,177.81 581.15,177.97 581.4,177.92 581.65,177.91 581.9,178.29 582.15,178.21 582.4,177.95 582.65,177.9 582.9,178.03 583.15,178.4 583.4,178.2 583.65,178.24 583.9,178.11 584.15,178.14 584.4,178.26 584.65,177.76 584.9,178.63 585.15,178.04 585.4,178.11 585.65,178.6 585.9,178.33 586.15,178.29 586.4,178.15 586.65,177.91 586.9,178.36 587.15,178.62 587.4,178.11 587.65,178.68 587.9,178.07 588.15,178.18 588.4,178.5 588.65,178.38 588.9,178.57 589.15,178.22 589.4,178.16 589.65,177.96 589.9,178.14 590.15,178.18 590.4,178.1 590.65,178.55 590.9,178.32 591.15,178 591.4,179.13 591.65,178.31 591.9,178.21 592.15,178.85 592.4,178.84 592.65,178.27 592.9,178.2 593.15,178.33 593.4,178.87 593.65,178.52 593.9,178.41 594.15,178.62 594.4,178.94 594.65,178.3 594.9,178.56 595.15,178.32 595.4,179.22 595.65,179.14 595.9,178.94 596.15,178.68 596.4,178.89 596.65,178.21 596.9,178.81 597.15,178.42 597.4,178.43 597.65,178.6 597.9,178.7 598.15,178.94 598.4,178.98 598.65,178.88 598.9,178.59 599.15,179.01 599.4,178.82 599.65,179.16 599.9,178.64 600.15,178.19 600.4,178.77 600.65,179.44 600.9,179.03 601.15,178.88 601.4,179.16 601.65,179.07 601.9,179.07 602.15,178.84 602.4,179 602.65,179.04 602.9,178.84 603.15,178.73 603.4,179.05 603.65,179.27 603.9,179.2 604.15,179.18 604.4,179.19 604.65,179.72 604.9,179.15 605.15,179.35" fill="none" stroke="#111" stroke-width="1.3" stroke-linejoin="round" />
<text x="397.6" y="47.8" font-size="8.3" text-anchor="start" fill="#000" stroke="#000" stroke-width="0.2" >E<tspan font-size="5.2" dx="0.4" dy="3.0">g</tspan></text>
<text x="406.1" y="152.2" font-size="8.0" text-anchor="start" fill="#000" stroke="#000" stroke-width="0.2" >E<tspan font-size="5.0" dx="0.4" dy="2.9">g</tspan><tspan dy="-2.9">(2)</tspan></text>
<text x="425.4" y="160.7" font-size="7.8" text-anchor="start" fill="#000" stroke="#000" stroke-width="0.2" >B<tspan font-size="5.0" dx="0.4" dy="2.9">1g</tspan></text>
<text x="437.9" y="160.7" font-size="7.8" text-anchor="start" fill="#000" stroke="#000" stroke-width="0.2" >A<tspan font-size="5.0" dx="0.4" dy="2.9">1g</tspan></text>
<text x="451.5" y="160.7" font-size="7.8" text-anchor="start" fill="#000" stroke="#000" stroke-width="0.2" >E<tspan font-size="5.0" dx="0.4" dy="2.9">g</tspan><tspan dy="-2.9">(3)</tspan></text>
<circle cx="405.9" cy="154.6" r="0.9" fill="#000"/>
<text x="534.2" y="167.6" font-size="8.2" text-anchor="middle" fill="#000" stroke="#000" stroke-width="0.2" >D</text>
<text x="558.6" y="167.6" font-size="8.2" text-anchor="middle" fill="#000" stroke="#000" stroke-width="0.2" >G</text>
<text x="0.2" y="260" font-size="18" text-anchor="start" fill="#000" stroke="#000" stroke-width="0.2" >(c)</text>
<line x1="48.9" y1="282.1" x2="274.8" y2="282.1" stroke="#b0b0b0" stroke-width="1.6" />
<line x1="48.9" y1="292.9" x2="274.8" y2="292.9" stroke="#b0b0b0" stroke-width="1.6" />
<path d="M48.9,268H274.8" stroke="#5a5a5a" stroke-width="1.5" stroke-linecap="square"/>
<path d="M274.8,268V427.5" stroke="#777" stroke-width="1.5" stroke-linecap="square"/>
<path d="M48.9,268V427.5" stroke="#777" stroke-width="1.5" stroke-linecap="square"/>
<path d="M48.9,427.5H274.8" stroke="#404040" stroke-width="1.5" stroke-linecap="square"/>
<line x1="54.77" y1="427.5" x2="54.77" y2="429.5" stroke="#4d4d4d" stroke-width="1" />
<line x1="69.44" y1="427.5" x2="69.44" y2="430.5" stroke="#4d4d4d" stroke-width="1" />
<line x1="84.11" y1="427.5" x2="84.11" y2="429.5" stroke="#4d4d4d" stroke-width="1" />
<line x1="98.77" y1="427.5" x2="98.77" y2="430.5" stroke="#4d4d4d" stroke-width="1" />
<line x1="113.44" y1="427.5" x2="113.44" y2="429.5" stroke="#4d4d4d" stroke-width="1" />
<line x1="128.11" y1="427.5" x2="128.11" y2="430.5" stroke="#4d4d4d" stroke-width="1" />
<line x1="142.78" y1="427.5" x2="142.78" y2="429.5" stroke="#4d4d4d" stroke-width="1" />
<line x1="157.45" y1="427.5" x2="157.45" y2="430.5" stroke="#4d4d4d" stroke-width="1" />
<line x1="172.12" y1="427.5" x2="172.12" y2="429.5" stroke="#4d4d4d" stroke-width="1" />
<line x1="186.79" y1="427.5" x2="186.79" y2="430.5" stroke="#4d4d4d" stroke-width="1" />
<line x1="201.46" y1="427.5" x2="201.46" y2="429.5" stroke="#4d4d4d" stroke-width="1" />
<line x1="216.12" y1="427.5" x2="216.12" y2="430.5" stroke="#4d4d4d" stroke-width="1" />
<line x1="230.79" y1="427.5" x2="230.79" y2="429.5" stroke="#4d4d4d" stroke-width="1" />
<line x1="245.46" y1="427.5" x2="245.46" y2="430.5" stroke="#4d4d4d" stroke-width="1" />
<line x1="260.13" y1="427.5" x2="260.13" y2="429.5" stroke="#4d4d4d" stroke-width="1" />
<line x1="274.8" y1="427.5" x2="274.8" y2="430.5" stroke="#4d4d4d" stroke-width="1" />
<text x="69.44" y="440.5" font-size="9.8" text-anchor="middle" fill="#000" stroke="#000" stroke-width="0.2" >100</text>
<text x="98.77" y="440.5" font-size="9.8" text-anchor="middle" fill="#000" stroke="#000" stroke-width="0.2" >200</text>
<text x="128.11" y="440.5" font-size="9.8" text-anchor="middle" fill="#000" stroke="#000" stroke-width="0.2" >300</text>
<text x="157.45" y="440.5" font-size="9.8" text-anchor="middle" fill="#000" stroke="#000" stroke-width="0.2" >400</text>
<text x="186.79" y="440.5" font-size="9.8" text-anchor="middle" fill="#000" stroke="#000" stroke-width="0.2" >500</text>
<text x="216.12" y="440.5" font-size="9.8" text-anchor="middle" fill="#000" stroke="#000" stroke-width="0.2" >600</text>
<text x="245.46" y="440.5" font-size="9.8" text-anchor="middle" fill="#000" stroke="#000" stroke-width="0.2" >700</text>
<text x="274.8" y="440.5" font-size="9.8" text-anchor="middle" fill="#000" stroke="#000" stroke-width="0.2" >800</text>
<line x1="48.9" y1="427.5" x2="45.9" y2="427.5" stroke="#4d4d4d" stroke-width="1" />
<line x1="48.9" y1="413" x2="46.9" y2="413" stroke="#4d4d4d" stroke-width="1" />
<line x1="48.9" y1="398.5" x2="45.9" y2="398.5" stroke="#4d4d4d" stroke-width="1" />
<line x1="48.9" y1="384" x2="46.9" y2="384" stroke="#4d4d4d" stroke-width="1" />
<line x1="48.9" y1="369.5" x2="45.9" y2="369.5" stroke="#4d4d4d" stroke-width="1" />
<line x1="48.9" y1="355" x2="46.9" y2="355" stroke="#4d4d4d" stroke-width="1" />
<line x1="48.9" y1="340.5" x2="45.9" y2="340.5" stroke="#4d4d4d" stroke-width="1" />
<line x1="48.9" y1="326" x2="46.9" y2="326" stroke="#4d4d4d" stroke-width="1" />
<line x1="48.9" y1="311.5" x2="45.9" y2="311.5" stroke="#4d4d4d" stroke-width="1" />
<line x1="48.9" y1="297" x2="46.9" y2="297" stroke="#4d4d4d" stroke-width="1" />
<line x1="48.9" y1="282.5" x2="45.9" y2="282.5" stroke="#4d4d4d" stroke-width="1" />
<text x="43.3" y="430.7" font-size="10" text-anchor="end" fill="#000" stroke="#000" stroke-width="0.2" >0</text>
<text x="43.3" y="401.7" font-size="10" text-anchor="end" fill="#000" stroke="#000" stroke-width="0.2" >20</text>
<text x="43.3" y="372.7" font-size="10" text-anchor="end" fill="#000" stroke="#000" stroke-width="0.2" >40</text>
<text x="43.3" y="343.7" font-size="10" text-anchor="end" fill="#000" stroke="#000" stroke-width="0.2" >60</text>
<text x="43.3" y="314.7" font-size="10" text-anchor="end" fill="#000" stroke="#000" stroke-width="0.2" >80</text>
<text x="43.3" y="285.7" font-size="10" text-anchor="end" fill="#000" stroke="#000" stroke-width="0.2" >100</text>
<text x="121.6" y="457" font-size="10.7" text-anchor="start" fill="#000" stroke="#000" stroke-width="0.2" >Temperature (<tspan font-size="7.5" dy="-3.2">o</tspan><tspan dy="3.2">C)</tspan></text>
<text transform="translate(13.7,344.5) rotate(-90)" font-size="10.2" text-anchor="middle" fill="#000" stroke="#000" stroke-width="0.2">Weight Percentage (%)</text>
<polyline points="48.8,282.4 52.8,282.8 60.6,285.1 68.3,287.6 76.1,290 83.9,291.5 91.7,292.5 99.5,293.1 107.2,293.5 115,293.9 122.8,294.4 130.6,295.2 136,296 138.3,296.4 140.5,297 142.2,297.8 143.6,298.5 144.6,299.3 145.4,301 146.1,303.2 147.1,305.8 148.1,308.1 149.5,310 151,311.2 153,312.3 155.9,313.3 158.8,314.5 161.7,315.8 166.5,318.7 173,324.4 179.5,332.6 186,339.9 192.6,347.2 199.1,353.7 205.6,359 212.1,362.7 218.6,365.1 225.1,366.8 231.7,367.6 240,368.1 250,368.3 274.7,368.3" fill="none" stroke="#ff1a1a" stroke-width="1.3" stroke-linejoin="round" />
<line x1="98.4" y1="285.64" x2="98.4" y2="289.26" stroke="#666" stroke-width="0.7" />
<path d="M98.4,282.6 l-1.52,3.42 h3.04z M98.4,292.3 l-1.52,-3.42 h3.04z" fill="#222"/>
<line x1="245.2" y1="296.44" x2="245.2" y2="364.76" stroke="#a0a0a0" stroke-width="0.7" />
<path d="M245.2,293.4 l-1.52,3.42 h3.04z M245.2,367.8 l-1.52,-3.42 h3.04z" fill="#222"/>
<rect x="233.5" y="322.7" width="28" height="10.6" fill="#fff"/>
<text x="102.6" y="290" font-size="7.6" text-anchor="start" fill="#ff1010" stroke="#ff1010" stroke-width="0.2" style="stroke-width:0.32">7.16%</text>
<text x="234.6" y="330.3" font-size="7.6" text-anchor="start" fill="#ff1010" stroke="#ff1010" stroke-width="0.2" style="stroke-width:0.32">52.14%</text>
<text x="337.2" y="255.8" font-size="18.3" text-anchor="start" fill="#000" stroke="#000" stroke-width="0.2" >(d)</text>
<path d="M381.6,259H607.4" stroke="#5a5a5a" stroke-width="1.5" stroke-linecap="square"/>
<path d="M607.4,259V425.8" stroke="#3a3a3a" stroke-width="1.5" stroke-linecap="square"/>
<path d="M381.6,259V425.8" stroke="#555" stroke-width="1.5" stroke-linecap="square"/>
<path d="M381.6,425.8H607.4" stroke="#555" stroke-width="1.5" stroke-linecap="square"/>
<line x1="396.91" y1="425.8" x2="396.91" y2="427.8" stroke="#4d4d4d" stroke-width="1" />
<line x1="416.04" y1="425.8" x2="416.04" y2="428.8" stroke="#4d4d4d" stroke-width="1" />
<line x1="435.18" y1="425.8" x2="435.18" y2="427.8" stroke="#4d4d4d" stroke-width="1" />
<line x1="454.32" y1="425.8" x2="454.32" y2="428.8" stroke="#4d4d4d" stroke-width="1" />
<line x1="473.45" y1="425.8" x2="473.45" y2="427.8" stroke="#4d4d4d" stroke-width="1" />
<line x1="492.59" y1="425.8" x2="492.59" y2="428.8" stroke="#4d4d4d" stroke-width="1" />
<line x1="511.72" y1="425.8" x2="511.72" y2="427.8" stroke="#4d4d4d" stroke-width="1" />
<line x1="530.86" y1="425.8" x2="530.86" y2="428.8" stroke="#4d4d4d" stroke-width="1" />
<line x1="549.99" y1="425.8" x2="549.99" y2="427.8" stroke="#4d4d4d" stroke-width="1" />
<line x1="569.13" y1="425.8" x2="569.13" y2="428.8" stroke="#4d4d4d" stroke-width="1" />
<line x1="588.26" y1="425.8" x2="588.26" y2="427.8" stroke="#4d4d4d" stroke-width="1" />
<text x="416.04" y="439.3" font-size="9.2" text-anchor="middle" fill="#000" stroke="#000" stroke-width="0.2" >1</text>
<text x="454.32" y="439.3" font-size="9.2" text-anchor="middle" fill="#000" stroke="#000" stroke-width="0.2" >2</text>
<text x="492.59" y="439.3" font-size="9.2" text-anchor="middle" fill="#000" stroke="#000" stroke-width="0.2" >3</text>
<text x="530.86" y="439.3" font-size="9.2" text-anchor="middle" fill="#000" stroke="#000" stroke-width="0.2" >4</text>
<text x="569.13" y="439.3" font-size="9.2" text-anchor="middle" fill="#000" stroke="#000" stroke-width="0.2" >5</text>
<text x="607.4" y="439.3" font-size="9.2" text-anchor="middle" fill="#000" stroke="#000" stroke-width="0.2" >6</text>
<text x="494.3" y="456.3" font-size="10.4" text-anchor="middle" fill="#000" stroke="#000" stroke-width="0.2" >Energy (keV)</text>
<text transform="translate(365.7,349.2) rotate(-90)" font-size="10.6" text-anchor="middle" fill="#000" stroke="#000" stroke-width="0.2">Intensity (a.u.)</text>
<path d="M381.6,425.8 L381.6,421 L382.5,420.2 L383.5,419.5 L384.5,417.5 L385.2,414 L385.6,402 L386.4,400 L386.5,358.5 L387,357.5 L387,292.5 L387.7,291.8 L387.8,271.6 L389,271.6 L389,328.3 L389.9,328 L390.1,358 L390.3,360 L390.4,395 L390.8,410 L391.2,414.5 L391.8,414 L392.1,410.5 L392.6,413 L393.2,416 L393.8,413 L394.3,410.5 L394.8,414 L395.3,415.5 L395.8,410 L396,396.3 L396.6,395 L396.9,384 L397.4,383.3 L398.1,384 L398.6,392 L399.2,400 L399.8,410 L400.3,415 L400.6,420 L401,422.5 L401.4,423.98 L401.75,423.85 L402.1,423.36 L402.45,423.55 L402.8,423.98 L403.15,423.69 L403.5,423.65 L403.85,423.93 L404.2,423.44 L404.55,423.98 L404.9,423.74 L405.25,423.64 L405.6,423.72 L405.95,423.59 L406.3,423.46 L406.65,423.28 L407,423.85 L407.35,423.55 L407.7,423.51 L408.05,423.86 L408.4,424.11 L408.75,423.29 L409.1,423.86 L409.45,423.85 L409.8,423.37 L410.15,423.63 L410.5,423.73 L410.85,423.48 L411.2,424.1 L411.55,423.54 L411.9,423.82 L412.25,424.06 L412.6,423.59 L412.95,423.37 L413.3,423.98 L413.65,423.63 L414,423.91 L414.35,423.54 L414.7,423.56 L415.05,423.98 L415.4,423.48 L415.75,423.63 L416.1,423.61 L416.45,423.5 L416.8,423.83 L417.15,423.56 L417.5,423.47 L417.85,424.1 L418.2,423.5 L418.55,423.87 L418.9,423.81 L419.25,424.08 L419.6,423.64 L419.95,423.97 L420.3,423.51 L420.65,423.99 L421,423.76 L421.35,423.89 L421.7,423.73 L422.05,424.06 L422.4,424.08 L422.75,423.63 L423.1,423.63 L423.45,423.78 L423.8,423.51 L424.15,424.07 L424.5,423.57 L424.85,424.11 L425.2,423.49 L425.55,423.76 L425.9,423.78 L426.25,423.5 L426.6,423.64 L426.95,423.65 L427.3,424.22 L427.65,423.98 L428,424.2 L428.35,424.12 L428.7,424.11 L429.05,423.62 L429.4,424.18 L429.75,424.05 L430.1,423.91 L430.45,423.64 L430.8,423.56 L431.15,423.75 L431.5,424.13 L431.85,423.88 L432.2,423.77 L432.55,424.26 L432.9,423.79 L433.25,424.03 L433.6,423.87 L433.95,423.81 L434.3,423.82 L434.65,423.93 L435,423.91 L435.35,424.18 L435.7,423.96 L436.05,424.24 L436.4,423.98 L436.75,423.94 L437.1,423.77 L437.45,424.05 L437.8,424.33 L438.15,423.96 L438.5,424.2 L438.85,423.81 L439.2,424.07 L439.55,424.08 L439.9,423.7 L440.25,424.08 L440.6,424.11 L440.95,424.12 L441.3,424.03 L441.65,424.31 L442,423.99 L442.35,423.72 L442.7,423.98 L443.05,423.86 L443.4,423.72 L443.75,423.8 L444.1,423.87 L444.45,423.82 L444.8,423.82 L445.15,424.22 L445.5,424.07 L445.85,424.17 L446.2,424.23 L446.55,424.02 L446.9,424.2 L447.25,423.99 L447.6,424.02 L447.95,424.35 L448.3,424.12 L448.65,424.16 L449,423.95 L449.35,424.37 L449.7,424.32 L450.05,424.09 L450.4,424.17 L450.75,423.99 L451.1,424.22 L451.45,424.32 L451.8,423.82 L452.15,424.29 L452.5,424.36 L452.85,424.27 L453.2,424.23 L453.55,424.31 L453.9,424.11 L454.25,423.84 L454.6,424.39 L454.95,424.2 L455.3,424.03 L455.65,423.89 L456,423.82 L456.35,424.39 L456.7,424.13 L457.05,423.91 L457.4,424.45 L457.75,424.1 L458.1,424.38 L458.45,423.99 L458.8,423.89 L459.15,424.15 L459.5,424.49 L459.85,424.46 L460.2,424.24 L460.55,423.96 L460.9,424.36 L461.25,424.08 L461.6,424.25 L461.95,424.35 L462.3,424.07 L462.65,424.32 L463,424.29 L463.35,424.04 L463.7,424.21 L464.05,424.03 L464.4,424.2 L464.75,424.43 L465.1,424.26 L465.45,423.99 L465.8,424.19 L466.15,423.94 L466.5,424.54 L466.85,424.33 L467.2,424.07 L467.55,424.12 L467.9,424.21 L468.25,424.14 L468.6,424.02 L468.95,424.14 L469.3,424.23 L469.65,424.22 L470,424.16 L470.35,424.37 L470.7,424.16 L471.05,424.2 L471.4,424.1 L471.75,424.29 L472.1,424.56 L472.45,424.26 L472.8,424.07 L473.15,424.2 L473.5,424.2 L473.85,424.36 L474.2,424.38 L474.55,424.16 L474.9,424.55 L475.25,424.07 L475.6,424.03 L475.95,423.91 L476.3,424.26 L476.65,424.02 L477,423.22 L477.35,423.14 L477.7,422.94 L478.05,422.8 L478.4,422.78 L478.75,423.4 L479.1,423.58 L479.45,423.8 L479.8,423.99 L480.15,424.53 L480.5,424.13 L480.85,424.37 L481.2,424.38 L481.55,424.32 L481.9,424.48 L482.25,424.13 L482.6,424.53 L482.95,424.34 L483.3,424.56 L483.65,424.3 L484,424.14 L484.35,424.16 L484.7,424.59 L485.05,424.31 L485.4,424.16 L485.75,424.56 L486.1,424.44 L486.45,424.27 L486.8,424.26 L487.15,424.42 L487.5,424.32 L487.85,424.31 L488.2,424.49 L488.55,424.32 L488.9,424.37 L489.25,424.3 L489.6,424.41 L489.95,424.51 L490.3,424.46 L490.65,424.19 L491,424.6 L491.35,424.62 L491.7,424.7 L492.05,424.24 L492.4,424.17 L492.75,424.59 L493.1,424.57 L493.45,424.61 L493.8,424.4 L494.15,424.46 L494.5,424.28 L494.85,424.61 L495.2,424.26 L495.55,424.48 L495.9,424.3 L496.25,424.31 L496.6,424.25 L496.95,424.48 L497.3,424.42 L497.65,424.45 L498,424.65 L498.35,424.49 L498.7,424.27 L499.05,424.28 L499.4,424.74 L499.75,424.41 L500.1,424.59 L500.45,424.69 L500.8,424.69 L501.15,424.35 L501.5,424.27 L501.85,424.5 L502.2,424.57 L502.55,424.51 L502.9,424.34 L503.25,424.39 L503.6,424.74 L503.95,424.66 L504.3,424.33 L504.65,424.52 L505,424.44 L505.35,424.38 L505.7,424.45 L506.05,424.4 L506.4,424.5 L506.75,424.66 L507.1,424.69 L507.45,424.28 L507.8,424.78 L508.15,424.44 L508.5,424.34 L508.85,424.67 L509.2,424.76 L509.55,424.59 L509.9,424.63 L510.25,424.56 L510.6,424.58 L510.95,424.32 L511.3,424.74 L511.65,424.32 L512,424.78 L512.35,424.33 L512.7,424.63 L513.05,424.44 L513.4,424.8 L513.75,424.58 L514.1,424.47 L514.45,424.49 L514.8,424.41 L515.15,424.73 L515.5,424.61 L515.85,424.51 L516.2,424.8 L516.55,424.4 L516.9,424.61 L517.25,424.69 L517.6,424.71 L517.95,424.5 L518.3,424.8 L518.65,424.7 L519,424.67 L519.35,424.7 L519.7,424.47 L520.05,424.54 L520.4,424.38 L520.75,424.49 L521.1,424.68 L521.45,424.67 L521.8,424.77 L522.15,424.71 L522.5,424.54 L522.85,424.48 L523.2,424.69 L523.55,424.67 L523.9,424.45 L524.25,424.38 L524.6,424.8 L524.95,424.81 L525.3,424.48 L525.65,424.6 L526,424.64 L526.35,424.54 L526.7,424.48 L527.05,424.81 L527.4,424.39 L527.75,424.39 L528.1,424.65 L528.45,424.63 L528.8,424.72 L529.15,424.58 L529.5,424.76 L529.85,424.6 L530.2,424.43 L530.55,424.62 L530.9,424.47 L531.25,424.78 L531.6,424.45 L531.95,424.8 L532.3,424.76 L532.65,424.53 L533,424.72 L533.35,424.81 L533.7,424.83 L534.05,424.5 L534.4,424.86 L534.75,424.85 L535.1,424.43 L535.45,424.51 L535.8,424.7 L536.15,424.79 L536.5,424.48 L536.85,424.51 L537.2,424.57 L537.55,424.64 L537.9,424.64 L538.25,424.43 L538.6,424.64 L538.95,424.85 L539.3,424.85 L539.65,424.61 L540,424.55 L540.35,424.6 L540.7,424.55 L541.05,424.76 L541.4,424.72 L541.75,424.77 L542.1,424.73 L542.45,424.78 L542.8,424.52 L543.15,424.83 L543.5,424.8 L543.85,424.58 L544.2,424.72 L544.55,424.74 L544.9,424.45 L545.25,424.46 L545.6,424.72 L545.95,424.66 L546.3,424.36 L546.65,424.06 L547,423.76 L547.35,423.03 L547.7,422.11 L548.05,420.87 L548.4,419.65 L548.75,417.73 L549.1,416.1 L549.45,414.2 L549.8,412.52 L550.15,411.2 L550.5,410.19 L550.85,410.32 L551.2,410.9 L551.55,412.14 L551.9,413.89 L552.25,415.84 L552.6,417.68 L552.95,419.16 L553.3,420.91 L553.65,422.1 L554,423.09 L554.35,423.54 L554.7,423.99 L555.05,424.41 L555.4,424.52 L555.75,424.67 L556.1,424.64 L556.45,424.66 L556.8,424.68 L557.15,424.55 L557.5,424.53 L557.85,424.92 L558.2,424.78 L558.55,424.93 L558.9,424.78 L559.25,424.6 L559.6,424.66 L559.95,424.71 L560.3,424.91 L560.65,424.6 L561,424.69 L561.35,424.82 L561.7,424.61 L562.05,424.92 L562.4,424.85 L562.75,424.58 L563.1,424.85 L563.45,424.76 L563.8,424.52 L564.15,424.3 L564.5,424.18 L564.85,424.2 L565.2,423.84 L565.55,423.38 L565.9,423.24 L566.25,423.04 L566.6,422.92 L566.95,422.68 L567.3,422.39 L567.65,422.83 L568,422.8 L568.35,422.9 L568.7,423.26 L569.05,423.73 L569.4,423.85 L569.75,424.31 L570.1,424.35 L570.45,424.59 L570.8,424.44 L571.15,424.52 L571.5,424.61 L571.85,424.8 L572.2,424.64 L572.55,424.57 L572.9,424.83 L573.25,424.77 L573.6,424.92 L573.95,424.94 L574.3,424.7 L574.65,424.96 L575,424.75 L575.35,424.95 L575.7,424.72 L576.05,424.69 L576.4,424.61 L576.75,424.84 L577.1,424.84 L577.45,424.84 L577.8,424.72 L578.15,424.68 L578.5,424.95 L578.85,424.87 L579.2,424.98 L579.55,424.91 L579.9,424.71 L580.25,424.63 L580.6,424.62 L580.95,424.98 L581.3,424.85 L581.65,424.66 L582,424.81 L582.35,424.87 L582.7,424.7 L583.05,424.67 L583.4,424.96 L583.75,424.81 L584.1,424.96 L584.45,424.95 L584.8,424.81 L585.15,424.92 L585.5,424.71 L585.85,424.88 L586.2,424.95 L586.55,424.78 L586.9,424.92 L587.25,425 L587.6,424.64 L587.95,424.96 L588.3,424.98 L588.65,424.84 L589,425.03 L589.35,424.73 L589.7,425 L590.05,425.02 L590.4,424.66 L590.75,424.84 L591.1,424.68 L591.45,424.69 L591.8,424.76 L592.15,425.03 L592.5,424.79 L592.85,425.02 L593.2,425.04 L593.55,424.72 L593.9,424.93 L594.25,424.76 L594.6,424.85 L594.95,424.75 L595.3,424.81 L595.65,424.68 L596,424.87 L596.35,424.73 L596.7,424.74 L597.05,424.83 L597.4,424.86 L597.75,424.89 L598.1,424.81 L598.45,424.98 L598.8,424.89 L599.15,424.82 L599.5,424.95 L599.85,424.98 L600.2,425.02 L600.55,424.76 L600.9,424.74 L601.25,424.76 L601.6,424.81 L601.95,424.84 L602.3,425.05 L602.65,424.75 L603,424.9 L603.35,424.82 L603.7,425.03 L604.05,424.8 L604.4,425.02 L604.75,424.73 L605.1,424.82 L605.45,424.88 L605.8,424.84 L606.15,424.99 L606.5,424.9 L606.85,425.05 L607.2,424.98 L607.3,425.8Z" fill="#0000ff" stroke="#0000ff" stroke-width="0.3"/>
<line x1="381.6" y1="425.8" x2="607.4" y2="425.8" stroke="#303050" stroke-width="1.2" stroke-opacity="0.55"/>
<text x="385.6" y="269.8" font-size="8.7" text-anchor="start" fill="#000" stroke="#000" stroke-width="0.2" >Ti</text>
<text x="390.9" y="357.8" font-size="8.7" text-anchor="start" fill="#000" stroke="#000" stroke-width="0.2" >Ti</text>
<text x="390.3" y="368.3" font-size="8.7" text-anchor="start" fill="#000" stroke="#000" stroke-width="0.2" >N</text>
<line x1="393.4" y1="373.3" x2="393.4" y2="403" stroke="#555" stroke-width="0.6" />
<path d="M393.4,406 l-1.3,-3.4 h2.6z" fill="#222"/>
<text x="394.7" y="380.8" font-size="8.7" text-anchor="start" fill="#000" stroke="#000" stroke-width="0.2" >O</text>
<text x="547.1" y="409.2" font-size="8.7" text-anchor="start" fill="#000" stroke="#000" stroke-width="0.2" >Ti</text>
<text x="563.8" y="421.6" font-size="8.7" text-anchor="start" fill="#000" stroke="#000" stroke-width="0.2" >Ti</text>
</svg>
</body></html>
